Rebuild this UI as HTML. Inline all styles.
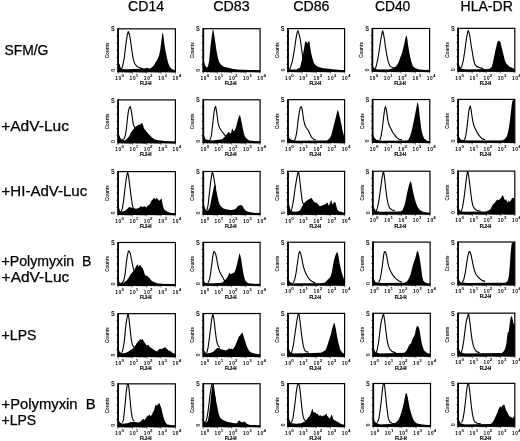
<!DOCTYPE html>
<html><head><meta charset="utf-8"><style>
html,body{margin:0;padding:0;background:#fff;}
body{width:520px;height:441px;position:relative;overflow:hidden;font-family:"Liberation Sans", sans-serif;}
svg text{font-family:"Liberation Sans", sans-serif;}
svg{will-change:transform;}
</style></head><body>
<svg width="520" height="441" viewBox="0 0 520 441" style="position:absolute;left:0;top:0">
<rect x="0" y="0" width="520" height="441" fill="#fff"/>
<text x="146.1" y="11.2" font-size="14" text-anchor="middle" textLength="36" lengthAdjust="spacingAndGlyphs" fill="#000" stroke="#000" stroke-width="0.25">CD14</text>
<text x="231.5" y="11.2" font-size="14" text-anchor="middle" textLength="36.4" lengthAdjust="spacingAndGlyphs" fill="#000" stroke="#000" stroke-width="0.25">CD83</text>
<text x="311.4" y="11.2" font-size="14" text-anchor="middle" textLength="36.2" lengthAdjust="spacingAndGlyphs" fill="#000" stroke="#000" stroke-width="0.25">CD86</text>
<text x="392.6" y="11.2" font-size="14" text-anchor="middle" textLength="35.4" lengthAdjust="spacingAndGlyphs" fill="#000" stroke="#000" stroke-width="0.25">CD40</text>
<text x="486.65" y="11.2" font-size="14" text-anchor="middle" textLength="52.3" lengthAdjust="spacingAndGlyphs" fill="#000" stroke="#000" stroke-width="0.25">HLA-DR</text>
<text x="4.4" y="54.5" font-size="14" textLength="44" lengthAdjust="spacingAndGlyphs" fill="#000" stroke="#000" stroke-width="0.25" xml:space="preserve">SFM/G</text>
<text x="1.2" y="131.4" font-size="14" textLength="67.8" lengthAdjust="spacingAndGlyphs" fill="#000" stroke="#000" stroke-width="0.25" xml:space="preserve">+AdV-Luc</text>
<text x="1.6" y="195.5" font-size="14" textLength="85.6" lengthAdjust="spacingAndGlyphs" fill="#000" stroke="#000" stroke-width="0.25" xml:space="preserve">+HI-AdV-Luc</text>
<text x="1.6" y="266.4" font-size="14" textLength="89.8" lengthAdjust="spacingAndGlyphs" fill="#000" stroke="#000" stroke-width="0.25" xml:space="preserve">+Polymyxin  B</text>
<text x="1.6" y="282" font-size="14" textLength="67.7" lengthAdjust="spacingAndGlyphs" fill="#000" stroke="#000" stroke-width="0.25" xml:space="preserve">+AdV-Luc</text>
<text x="1.6" y="340" font-size="14" textLength="34.8" lengthAdjust="spacingAndGlyphs" fill="#000" stroke="#000" stroke-width="0.25" xml:space="preserve">+LPS</text>
<text x="1.6" y="408.9" font-size="14" textLength="94" lengthAdjust="spacingAndGlyphs" fill="#000" stroke="#000" stroke-width="0.25" xml:space="preserve">+Polymyxin  B</text>
<text x="1.6" y="425.4" font-size="14" textLength="34.6" lengthAdjust="spacingAndGlyphs" fill="#000" stroke="#000" stroke-width="0.25" xml:space="preserve">+LPS</text>
<g><polygon points="118.45,70.06 118.69,62.92 119.68,64.15 120.54,67.85 122.38,69.08 127.31,69.32 139.62,68.83 144.54,68.46 147,67.85 149.46,68.83 151.92,67.23 153.77,65.38 155.62,62.31 157.46,59.23 159.06,55.54 160.29,49.38 161.28,42 162.14,34.62 162.75,32.15 163.62,37.08 164.48,44.46 165.46,50.62 166.69,56.77 168.17,62.92 169.77,66.62 171.62,69.08 173.46,69.69 175.31,70.06 175.31,71.7 118.45,71.7" fill="#000"/><polyline points="120.91,69.08 122.38,67.23 124.23,58 125.83,44.46 127.31,34.62 128.29,31.54 129.52,34.62 130.38,39.54 131.37,46.92 132.48,54.31 133.46,59.85 134.69,63.54 136.54,66 139.62,67.85 143.31,68.83" fill="none" stroke="#000" stroke-width="1.1" stroke-linejoin="round"/><rect x="118.1" y="70.3" width="57.3" height="1.4" fill="#000"/><rect x="118.1" y="28.85" width="57.3" height="42.85" fill="none" stroke="#000" stroke-width="1.2"/><line x1="118.1" y1="28.35" x2="118.1" y2="72.2" stroke="#000" stroke-width="1.7"/><path d="M116.3 35.99H118.1M116.3 43.13H118.1M116.3 50.28H118.1M116.3 57.42H118.1M116.3 64.56H118.1" stroke="#000" stroke-width="0.6"/><path d="M118.1 71.7v2.2M122.41 71.7v1.1M124.93 71.7v1.1M126.72 71.7v1.1M128.11 71.7v1.1M129.25 71.7v1.1M130.21 71.7v1.1M131.04 71.7v1.1M131.77 71.7v1.1M132.42 71.7v2.2M136.74 71.7v1.1M139.26 71.7v1.1M141.05 71.7v1.1M142.44 71.7v1.1M143.57 71.7v1.1M144.53 71.7v1.1M145.36 71.7v1.1M146.09 71.7v1.1M146.75 71.7v2.2M151.06 71.7v1.1M153.58 71.7v1.1M155.37 71.7v1.1M156.76 71.7v1.1M157.9 71.7v1.1M158.86 71.7v1.1M159.69 71.7v1.1M160.42 71.7v1.1M161.07 71.7v2.2M165.39 71.7v1.1M167.91 71.7v1.1M169.7 71.7v1.1M171.09 71.7v1.1M172.22 71.7v1.1M173.18 71.7v1.1M174.01 71.7v1.1M174.74 71.7v1.1M175.4 71.7v2.2" stroke="#000" stroke-width="0.5"/><text x="115.2" y="80.1" font-size="4.8" font-weight="bold" letter-spacing="0.7" fill="#000">10<tspan dx="-0.5" dy="-3" font-size="4.4">0</tspan></text><text x="129.52" y="80.1" font-size="4.8" font-weight="bold" letter-spacing="0.7" fill="#000">10<tspan dx="-0.5" dy="-3" font-size="4.4">1</tspan></text><text x="143.85" y="80.1" font-size="4.8" font-weight="bold" letter-spacing="0.7" fill="#000">10<tspan dx="-0.5" dy="-3" font-size="4.4">2</tspan></text><text x="158.17" y="80.1" font-size="4.8" font-weight="bold" letter-spacing="0.7" fill="#000">10<tspan dx="-0.5" dy="-3" font-size="4.4">3</tspan></text><text x="172.5" y="80.1" font-size="4.8" font-weight="bold" letter-spacing="0.7" fill="#000">10<tspan dx="-0.5" dy="-3" font-size="4.4">4</tspan></text><text x="145.75" y="85.3" font-size="4.6" font-weight="bold" text-anchor="middle" textLength="11.6" lengthAdjust="spacingAndGlyphs" fill="#000" stroke="#000" stroke-width="0.2">FL2-H</text><text x="107.6" y="50.28" font-size="4.6" font-weight="bold" text-anchor="middle" dominant-baseline="central" transform="rotate(-90 107.6 50.28)" fill="#111">Counts</text><text x="110.9" y="31.45" font-size="7.4" font-weight="bold" textLength="3.8" lengthAdjust="spacingAndGlyphs" fill="#111">S</text><text x="112.9" y="70.3" font-size="5.4" font-weight="bold" text-anchor="middle" dominant-baseline="central" transform="rotate(-90 112.9 70.3)" fill="#333">0</text></g>
<g><polygon points="203.69,70.69 203.69,60.23 204.68,63.92 206.15,67.62 208,66.38 209.23,60.23 210.46,46.69 211.69,36.85 212.68,30.08 213.29,29.46 214.15,34.38 215.38,43 216.62,51.62 217.85,57.77 219.08,62.08 220.92,64.54 223.38,66.38 227.08,67.62 232,68.85 236.92,69.46 243.08,69.83 249.23,70.08 255.38,70.32 260.1,70.69 260.1,71.57 203.69,71.57" fill="#000"/><rect x="203.3" y="70.17" width="56.8" height="1.4" fill="#000"/><rect x="203.3" y="28.72" width="56.8" height="42.85" fill="none" stroke="#000" stroke-width="1.2"/><line x1="203.3" y1="28.22" x2="203.3" y2="72.07" stroke="#000" stroke-width="1.7"/><path d="M201.5 35.86H203.3M201.5 43H203.3M201.5 50.15H203.3M201.5 57.29H203.3M201.5 64.43H203.3" stroke="#000" stroke-width="0.6"/><path d="M203.3 71.57v2.2M207.57 71.57v1.1M210.08 71.57v1.1M211.85 71.57v1.1M213.23 71.57v1.1M214.35 71.57v1.1M215.3 71.57v1.1M216.12 71.57v1.1M216.85 71.57v1.1M217.5 71.57v2.2M221.77 71.57v1.1M224.28 71.57v1.1M226.05 71.57v1.1M227.43 71.57v1.1M228.55 71.57v1.1M229.5 71.57v1.1M230.32 71.57v1.1M231.05 71.57v1.1M231.7 71.57v2.2M235.97 71.57v1.1M238.48 71.57v1.1M240.25 71.57v1.1M241.63 71.57v1.1M242.75 71.57v1.1M243.7 71.57v1.1M244.52 71.57v1.1M245.25 71.57v1.1M245.9 71.57v2.2M250.17 71.57v1.1M252.68 71.57v1.1M254.45 71.57v1.1M255.83 71.57v1.1M256.95 71.57v1.1M257.9 71.57v1.1M258.72 71.57v1.1M259.45 71.57v1.1M260.1 71.57v2.2" stroke="#000" stroke-width="0.5"/><text x="200.4" y="79.97" font-size="4.8" font-weight="bold" letter-spacing="0.7" fill="#000">10<tspan dx="-0.5" dy="-3" font-size="4.4">0</tspan></text><text x="214.6" y="79.97" font-size="4.8" font-weight="bold" letter-spacing="0.7" fill="#000">10<tspan dx="-0.5" dy="-3" font-size="4.4">1</tspan></text><text x="228.8" y="79.97" font-size="4.8" font-weight="bold" letter-spacing="0.7" fill="#000">10<tspan dx="-0.5" dy="-3" font-size="4.4">2</tspan></text><text x="243" y="79.97" font-size="4.8" font-weight="bold" letter-spacing="0.7" fill="#000">10<tspan dx="-0.5" dy="-3" font-size="4.4">3</tspan></text><text x="257.2" y="79.97" font-size="4.8" font-weight="bold" letter-spacing="0.7" fill="#000">10<tspan dx="-0.5" dy="-3" font-size="4.4">4</tspan></text><text x="230.7" y="85.17" font-size="4.6" font-weight="bold" text-anchor="middle" textLength="11.6" lengthAdjust="spacingAndGlyphs" fill="#000" stroke="#000" stroke-width="0.2">FL2-H</text><text x="192.8" y="50.15" font-size="4.6" font-weight="bold" text-anchor="middle" dominant-baseline="central" transform="rotate(-90 192.8 50.15)" fill="#111">Counts</text><text x="196.1" y="31.32" font-size="7.4" font-weight="bold" textLength="3.8" lengthAdjust="spacingAndGlyphs" fill="#111">S</text><text x="198.1" y="70.17" font-size="5.4" font-weight="bold" text-anchor="middle" dominant-baseline="central" transform="rotate(-90 198.1 70.17)" fill="#333">0</text></g>
<g><polygon points="288.31,70.69 288.31,67.62 290.15,69.46 296.31,69.46 300,67.62 301.85,60.23 303.08,54.08 304.31,46.69 305.17,41.77 306.15,41.15 307.14,43.62 308.37,41.77 309.35,41.15 310.09,46.69 311.08,52.85 312.31,57.77 313.78,62.69 315.75,65.15 318.46,67 323.38,68.23 328.31,68.85 333.23,69.22 338.15,69.83 344.31,70.69 344.31,71.45 288.31,71.45" fill="#000"/><polyline points="289.54,69.46 290.77,66.38 292.62,60.23 294.46,49.15 296.06,38.08 297.29,31.92 297.91,30.69 298.77,33.15 299.75,36.85 300.62,41.77 301.48,47.92 302.46,55.31 303.69,62.69 304.92,66.38 307.38,68.85 311.08,69.83" fill="none" stroke="#000" stroke-width="1.1" stroke-linejoin="round"/><rect x="288" y="70.05" width="56.6" height="1.4" fill="#000"/><rect x="288" y="28.6" width="56.6" height="42.85" fill="none" stroke="#000" stroke-width="1.2"/><line x1="288" y1="28.1" x2="288" y2="71.95" stroke="#000" stroke-width="1.7"/><path d="M286.2 35.74H288M286.2 42.88H288M286.2 50.03H288M286.2 57.17H288M286.2 64.31H288" stroke="#000" stroke-width="0.6"/><path d="M288 71.45v2.2M292.26 71.45v1.1M294.75 71.45v1.1M296.52 71.45v1.1M297.89 71.45v1.1M299.01 71.45v1.1M299.96 71.45v1.1M300.78 71.45v1.1M301.5 71.45v1.1M302.15 71.45v2.2M306.41 71.45v1.1M308.9 71.45v1.1M310.67 71.45v1.1M312.04 71.45v1.1M313.16 71.45v1.1M314.11 71.45v1.1M314.93 71.45v1.1M315.65 71.45v1.1M316.3 71.45v2.2M320.56 71.45v1.1M323.05 71.45v1.1M324.82 71.45v1.1M326.19 71.45v1.1M327.31 71.45v1.1M328.26 71.45v1.1M329.08 71.45v1.1M329.8 71.45v1.1M330.45 71.45v2.2M334.71 71.45v1.1M337.2 71.45v1.1M338.97 71.45v1.1M340.34 71.45v1.1M341.46 71.45v1.1M342.41 71.45v1.1M343.23 71.45v1.1M343.95 71.45v1.1M344.6 71.45v2.2" stroke="#000" stroke-width="0.5"/><text x="285.1" y="79.85" font-size="4.8" font-weight="bold" letter-spacing="0.7" fill="#000">10<tspan dx="-0.5" dy="-3" font-size="4.4">0</tspan></text><text x="299.25" y="79.85" font-size="4.8" font-weight="bold" letter-spacing="0.7" fill="#000">10<tspan dx="-0.5" dy="-3" font-size="4.4">1</tspan></text><text x="313.4" y="79.85" font-size="4.8" font-weight="bold" letter-spacing="0.7" fill="#000">10<tspan dx="-0.5" dy="-3" font-size="4.4">2</tspan></text><text x="327.55" y="79.85" font-size="4.8" font-weight="bold" letter-spacing="0.7" fill="#000">10<tspan dx="-0.5" dy="-3" font-size="4.4">3</tspan></text><text x="341.7" y="79.85" font-size="4.8" font-weight="bold" letter-spacing="0.7" fill="#000">10<tspan dx="-0.5" dy="-3" font-size="4.4">4</tspan></text><text x="315.3" y="85.05" font-size="4.6" font-weight="bold" text-anchor="middle" textLength="11.6" lengthAdjust="spacingAndGlyphs" fill="#000" stroke="#000" stroke-width="0.2">FL2-H</text><text x="277.5" y="50.03" font-size="4.6" font-weight="bold" text-anchor="middle" dominant-baseline="central" transform="rotate(-90 277.5 50.03)" fill="#111">Counts</text><text x="280.8" y="31.2" font-size="7.4" font-weight="bold" textLength="3.8" lengthAdjust="spacingAndGlyphs" fill="#111">S</text><text x="282.8" y="70.05" font-size="5.4" font-weight="bold" text-anchor="middle" dominant-baseline="central" transform="rotate(-90 282.8 70.05)" fill="#333">0</text></g>
<g><polygon points="373.08,70.69 373.08,66.38 374.31,68.23 377.38,69.46 388.46,69.46 393.38,68.23 395.85,66.38 397.69,63.92 398.92,61.46 400.15,57.77 401.75,54.08 402.98,49.15 404.22,44.23 405.45,38.08 406.31,35 407.17,38.08 408.15,45.46 409.14,51.62 410.37,57.77 411.6,62.69 413.08,66.38 415.54,68.23 419.23,69.46 424.15,70.08 429.6,70.32 429.6,71.33 373.08,71.33" fill="#000"/><polyline points="374.92,68.85 376.15,66.38 377.63,60.23 379.23,50.38 380.83,39.31 382.31,31.92 382.68,30.69 383.54,34.38 384.52,39.31 385.38,46.69 386.62,54.08 387.85,60.23 389.08,63.92 390.31,66.38 392.77,67.62 395.85,68.23" fill="none" stroke="#000" stroke-width="1.1" stroke-linejoin="round"/><rect x="372.4" y="69.93" width="57.2" height="1.4" fill="#000"/><rect x="372.4" y="28.48" width="57.2" height="42.85" fill="none" stroke="#000" stroke-width="1.2"/><line x1="372.4" y1="27.98" x2="372.4" y2="71.83" stroke="#000" stroke-width="1.7"/><path d="M370.6 35.62H372.4M370.6 42.76H372.4M370.6 49.91H372.4M370.6 57.05H372.4M370.6 64.19H372.4" stroke="#000" stroke-width="0.6"/><path d="M372.4 71.33v2.2M376.7 71.33v1.1M379.22 71.33v1.1M381.01 71.33v1.1M382.4 71.33v1.1M383.53 71.33v1.1M384.48 71.33v1.1M385.31 71.33v1.1M386.05 71.33v1.1M386.7 71.33v2.2M391 71.33v1.1M393.52 71.33v1.1M395.31 71.33v1.1M396.7 71.33v1.1M397.83 71.33v1.1M398.78 71.33v1.1M399.61 71.33v1.1M400.35 71.33v1.1M401 71.33v2.2M405.3 71.33v1.1M407.82 71.33v1.1M409.61 71.33v1.1M411 71.33v1.1M412.13 71.33v1.1M413.08 71.33v1.1M413.91 71.33v1.1M414.65 71.33v1.1M415.3 71.33v2.2M419.6 71.33v1.1M422.12 71.33v1.1M423.91 71.33v1.1M425.3 71.33v1.1M426.43 71.33v1.1M427.38 71.33v1.1M428.21 71.33v1.1M428.95 71.33v1.1M429.6 71.33v2.2" stroke="#000" stroke-width="0.5"/><text x="369.5" y="79.73" font-size="4.8" font-weight="bold" letter-spacing="0.7" fill="#000">10<tspan dx="-0.5" dy="-3" font-size="4.4">0</tspan></text><text x="383.8" y="79.73" font-size="4.8" font-weight="bold" letter-spacing="0.7" fill="#000">10<tspan dx="-0.5" dy="-3" font-size="4.4">1</tspan></text><text x="398.1" y="79.73" font-size="4.8" font-weight="bold" letter-spacing="0.7" fill="#000">10<tspan dx="-0.5" dy="-3" font-size="4.4">2</tspan></text><text x="412.4" y="79.73" font-size="4.8" font-weight="bold" letter-spacing="0.7" fill="#000">10<tspan dx="-0.5" dy="-3" font-size="4.4">3</tspan></text><text x="426.7" y="79.73" font-size="4.8" font-weight="bold" letter-spacing="0.7" fill="#000">10<tspan dx="-0.5" dy="-3" font-size="4.4">4</tspan></text><text x="400" y="84.93" font-size="4.6" font-weight="bold" text-anchor="middle" textLength="11.6" lengthAdjust="spacingAndGlyphs" fill="#000" stroke="#000" stroke-width="0.2">FL2-H</text><text x="361.9" y="49.91" font-size="4.6" font-weight="bold" text-anchor="middle" dominant-baseline="central" transform="rotate(-90 361.9 49.91)" fill="#111">Counts</text><text x="365.2" y="31.08" font-size="7.4" font-weight="bold" textLength="3.8" lengthAdjust="spacingAndGlyphs" fill="#111">S</text><text x="367.2" y="69.93" font-size="5.4" font-weight="bold" text-anchor="middle" dominant-baseline="central" transform="rotate(-90 367.2 69.93)" fill="#333">0</text></g>
<g><polygon points="458.69,70.32 458.69,62.69 459.68,66.38 461.15,68.85 467.31,69.46 489.46,69.09 491.92,66.38 493.15,61.46 494.14,56.54 495.37,50.38 496.6,45.46 497.46,41.77 499.06,40.54 500.29,41.77 501.15,45.46 502.38,50.38 503.62,55.31 504.85,60.23 506.08,63.31 507.31,64.54 509.15,66.38 511.62,67.62 514.08,68.85 514.8,70.32 514.8,71.2 458.69,71.2" fill="#000"/><polyline points="460.54,68.85 461.77,66.38 463.37,60.23 464.85,50.38 466.32,39.31 467.68,31.92 468.29,30.45 469.15,33.15 470.02,36.85 471,44.23 472.23,51.62 473.46,59 474.69,63.92 476.54,66.38 479.62,67.62 483.31,68.6" fill="none" stroke="#000" stroke-width="1.1" stroke-linejoin="round"/><rect x="458.1" y="69.8" width="56.7" height="1.4" fill="#000"/><rect x="458.1" y="28.35" width="56.7" height="42.85" fill="none" stroke="#000" stroke-width="1.2"/><line x1="458.1" y1="27.85" x2="458.1" y2="71.7" stroke="#000" stroke-width="1.7"/><path d="M456.3 35.49H458.1M456.3 42.63H458.1M456.3 49.78H458.1M456.3 56.92H458.1M456.3 64.06H458.1" stroke="#000" stroke-width="0.6"/><path d="M458.1 71.2v2.2M462.37 71.2v1.1M464.86 71.2v1.1M466.63 71.2v1.1M468.01 71.2v1.1M469.13 71.2v1.1M470.08 71.2v1.1M470.9 71.2v1.1M471.63 71.2v1.1M472.28 71.2v2.2M476.54 71.2v1.1M479.04 71.2v1.1M480.81 71.2v1.1M482.18 71.2v1.1M483.31 71.2v1.1M484.25 71.2v1.1M485.08 71.2v1.1M485.8 71.2v1.1M486.45 71.2v2.2M490.72 71.2v1.1M493.21 71.2v1.1M494.98 71.2v1.1M496.36 71.2v1.1M497.48 71.2v1.1M498.43 71.2v1.1M499.25 71.2v1.1M499.98 71.2v1.1M500.62 71.2v2.2M504.89 71.2v1.1M507.39 71.2v1.1M509.16 71.2v1.1M510.53 71.2v1.1M511.66 71.2v1.1M512.6 71.2v1.1M513.43 71.2v1.1M514.15 71.2v1.1M514.8 71.2v2.2" stroke="#000" stroke-width="0.5"/><text x="455.2" y="79.6" font-size="4.8" font-weight="bold" letter-spacing="0.7" fill="#000">10<tspan dx="-0.5" dy="-3" font-size="4.4">0</tspan></text><text x="469.38" y="79.6" font-size="4.8" font-weight="bold" letter-spacing="0.7" fill="#000">10<tspan dx="-0.5" dy="-3" font-size="4.4">1</tspan></text><text x="483.55" y="79.6" font-size="4.8" font-weight="bold" letter-spacing="0.7" fill="#000">10<tspan dx="-0.5" dy="-3" font-size="4.4">2</tspan></text><text x="497.73" y="79.6" font-size="4.8" font-weight="bold" letter-spacing="0.7" fill="#000">10<tspan dx="-0.5" dy="-3" font-size="4.4">3</tspan></text><text x="511.9" y="79.6" font-size="4.8" font-weight="bold" letter-spacing="0.7" fill="#000">10<tspan dx="-0.5" dy="-3" font-size="4.4">4</tspan></text><text x="485.45" y="84.8" font-size="4.6" font-weight="bold" text-anchor="middle" textLength="11.6" lengthAdjust="spacingAndGlyphs" fill="#000" stroke="#000" stroke-width="0.2">FL2-H</text><text x="447.6" y="49.78" font-size="4.6" font-weight="bold" text-anchor="middle" dominant-baseline="central" transform="rotate(-90 447.6 49.78)" fill="#111">Counts</text><text x="450.9" y="30.95" font-size="7.4" font-weight="bold" textLength="3.8" lengthAdjust="spacingAndGlyphs" fill="#111">S</text><text x="452.9" y="69.8" font-size="5.4" font-weight="bold" text-anchor="middle" dominant-baseline="central" transform="rotate(-90 452.9 69.8)" fill="#333">0</text></g>
<g><polygon points="118.45,141.69 118.45,133.69 119.31,134.92 120.54,138.62 122.38,139.85 124.85,140.46 127.31,138.62 129.15,136.15 131,132.46 132.85,130 134.69,127.54 136.54,126.31 138.38,125.08 140.23,124.46 141.46,123.23 142.32,123.23 143.06,125.08 143.92,128.15 145.15,130 146.75,131.85 148.23,133.69 150.08,135.54 151.92,137.38 154.38,139.23 158.08,140.22 161.77,140.46 164.23,141.08 167.92,141.45 175.06,141.69 175.06,142.77 118.45,142.77" fill="#000"/><polyline points="122.38,139.85 124.23,138.62 125.46,134.92 126.69,126.31 127.68,116.46 128.54,110.31 129.52,107.23 130.38,106.62 131,109.08 131.98,115.23 132.85,121.38 133.46,125.08 134.69,127.54 135.92,128.77 137.15,130 139.62,132.46 143.31,134.92 147,137.38 151.92,139.85" fill="none" stroke="#000" stroke-width="1.1" stroke-linejoin="round"/><rect x="118.1" y="141.37" width="57.3" height="1.4" fill="#000"/><rect x="118.1" y="99.92" width="57.3" height="42.85" fill="none" stroke="#000" stroke-width="1.2"/><line x1="118.1" y1="99.42" x2="118.1" y2="143.27" stroke="#000" stroke-width="1.7"/><path d="M116.3 107.06H118.1M116.3 114.2H118.1M116.3 121.34H118.1M116.3 128.49H118.1M116.3 135.63H118.1" stroke="#000" stroke-width="0.6"/><path d="M118.1 142.77v2.2M122.41 142.77v1.1M124.93 142.77v1.1M126.72 142.77v1.1M128.11 142.77v1.1M129.25 142.77v1.1M130.21 142.77v1.1M131.04 142.77v1.1M131.77 142.77v1.1M132.42 142.77v2.2M136.74 142.77v1.1M139.26 142.77v1.1M141.05 142.77v1.1M142.44 142.77v1.1M143.57 142.77v1.1M144.53 142.77v1.1M145.36 142.77v1.1M146.09 142.77v1.1M146.75 142.77v2.2M151.06 142.77v1.1M153.58 142.77v1.1M155.37 142.77v1.1M156.76 142.77v1.1M157.9 142.77v1.1M158.86 142.77v1.1M159.69 142.77v1.1M160.42 142.77v1.1M161.07 142.77v2.2M165.39 142.77v1.1M167.91 142.77v1.1M169.7 142.77v1.1M171.09 142.77v1.1M172.22 142.77v1.1M173.18 142.77v1.1M174.01 142.77v1.1M174.74 142.77v1.1M175.4 142.77v2.2" stroke="#000" stroke-width="0.5"/><text x="115.2" y="151.17" font-size="4.8" font-weight="bold" letter-spacing="0.7" fill="#000">10<tspan dx="-0.5" dy="-3" font-size="4.4">0</tspan></text><text x="129.52" y="151.17" font-size="4.8" font-weight="bold" letter-spacing="0.7" fill="#000">10<tspan dx="-0.5" dy="-3" font-size="4.4">1</tspan></text><text x="143.85" y="151.17" font-size="4.8" font-weight="bold" letter-spacing="0.7" fill="#000">10<tspan dx="-0.5" dy="-3" font-size="4.4">2</tspan></text><text x="158.17" y="151.17" font-size="4.8" font-weight="bold" letter-spacing="0.7" fill="#000">10<tspan dx="-0.5" dy="-3" font-size="4.4">3</tspan></text><text x="172.5" y="151.17" font-size="4.8" font-weight="bold" letter-spacing="0.7" fill="#000">10<tspan dx="-0.5" dy="-3" font-size="4.4">4</tspan></text><text x="145.75" y="156.37" font-size="4.6" font-weight="bold" text-anchor="middle" textLength="11.6" lengthAdjust="spacingAndGlyphs" fill="#000" stroke="#000" stroke-width="0.2">FL2-H</text><text x="107.6" y="121.34" font-size="4.6" font-weight="bold" text-anchor="middle" dominant-baseline="central" transform="rotate(-90 107.6 121.34)" fill="#111">Counts</text><text x="110.9" y="102.52" font-size="7.4" font-weight="bold" textLength="3.8" lengthAdjust="spacingAndGlyphs" fill="#111">S</text><text x="112.9" y="141.37" font-size="5.4" font-weight="bold" text-anchor="middle" dominant-baseline="central" transform="rotate(-90 112.9 141.37)" fill="#333">0</text></g>
<g><polygon points="203.45,141.69 203.45,133.69 204.31,136.15 205.54,139.23 207.38,139.85 212.31,140.46 218.46,139.85 222.15,139.23 224,137.38 225.85,135.54 227.69,133.08 228.92,131.85 230.15,133.69 231.02,133.08 231.75,130 232.62,128.15 233.23,131.23 234.46,130.62 235.69,128.15 236.92,123.85 238.15,118.92 239.14,115.85 240,115.23 240.98,118.92 241.85,123.85 243.08,130 244.31,134.92 245.54,137.38 247.38,139.23 249.23,140.46 254.15,141.08 259.69,141.69 259.69,142.64 203.45,142.64" fill="#000"/><polyline points="209.85,139.85 211.32,136.15 212.31,127.54 213.29,118.92 214.15,111.54 215.02,107.23 215.63,106.37 216.37,110.31 217.23,116.46 218.22,123.85 219.45,127.54 220.92,130 222.77,132.46 224.62,134.92 226.46,137.38 228.31,139.23" fill="none" stroke="#000" stroke-width="1.1" stroke-linejoin="round"/><rect x="203.3" y="141.24" width="56.8" height="1.4" fill="#000"/><rect x="203.3" y="99.79" width="56.8" height="42.85" fill="none" stroke="#000" stroke-width="1.2"/><line x1="203.3" y1="99.29" x2="203.3" y2="143.14" stroke="#000" stroke-width="1.7"/><path d="M201.5 106.93H203.3M201.5 114.07H203.3M201.5 121.22H203.3M201.5 128.36H203.3M201.5 135.5H203.3" stroke="#000" stroke-width="0.6"/><path d="M203.3 142.64v2.2M207.57 142.64v1.1M210.08 142.64v1.1M211.85 142.64v1.1M213.23 142.64v1.1M214.35 142.64v1.1M215.3 142.64v1.1M216.12 142.64v1.1M216.85 142.64v1.1M217.5 142.64v2.2M221.77 142.64v1.1M224.28 142.64v1.1M226.05 142.64v1.1M227.43 142.64v1.1M228.55 142.64v1.1M229.5 142.64v1.1M230.32 142.64v1.1M231.05 142.64v1.1M231.7 142.64v2.2M235.97 142.64v1.1M238.48 142.64v1.1M240.25 142.64v1.1M241.63 142.64v1.1M242.75 142.64v1.1M243.7 142.64v1.1M244.52 142.64v1.1M245.25 142.64v1.1M245.9 142.64v2.2M250.17 142.64v1.1M252.68 142.64v1.1M254.45 142.64v1.1M255.83 142.64v1.1M256.95 142.64v1.1M257.9 142.64v1.1M258.72 142.64v1.1M259.45 142.64v1.1M260.1 142.64v2.2" stroke="#000" stroke-width="0.5"/><text x="200.4" y="151.04" font-size="4.8" font-weight="bold" letter-spacing="0.7" fill="#000">10<tspan dx="-0.5" dy="-3" font-size="4.4">0</tspan></text><text x="214.6" y="151.04" font-size="4.8" font-weight="bold" letter-spacing="0.7" fill="#000">10<tspan dx="-0.5" dy="-3" font-size="4.4">1</tspan></text><text x="228.8" y="151.04" font-size="4.8" font-weight="bold" letter-spacing="0.7" fill="#000">10<tspan dx="-0.5" dy="-3" font-size="4.4">2</tspan></text><text x="243" y="151.04" font-size="4.8" font-weight="bold" letter-spacing="0.7" fill="#000">10<tspan dx="-0.5" dy="-3" font-size="4.4">3</tspan></text><text x="257.2" y="151.04" font-size="4.8" font-weight="bold" letter-spacing="0.7" fill="#000">10<tspan dx="-0.5" dy="-3" font-size="4.4">4</tspan></text><text x="230.7" y="156.24" font-size="4.6" font-weight="bold" text-anchor="middle" textLength="11.6" lengthAdjust="spacingAndGlyphs" fill="#000" stroke="#000" stroke-width="0.2">FL2-H</text><text x="192.8" y="121.22" font-size="4.6" font-weight="bold" text-anchor="middle" dominant-baseline="central" transform="rotate(-90 192.8 121.22)" fill="#111">Counts</text><text x="196.1" y="102.39" font-size="7.4" font-weight="bold" textLength="3.8" lengthAdjust="spacingAndGlyphs" fill="#111">S</text><text x="198.1" y="141.24" font-size="5.4" font-weight="bold" text-anchor="middle" dominant-baseline="central" transform="rotate(-90 198.1 141.24)" fill="#333">0</text></g>
<g><polygon points="288.68,141.69 288.68,136.15 289.54,138.62 291.38,139.85 296.31,140.83 320.92,140.46 327.08,140.46 329.54,138.62 331.38,134.92 332.62,130 333.85,125.08 335.08,120.15 336.31,115.23 337.17,111.54 337.78,109.69 338.77,112.77 340,117.69 341.23,123.85 342.46,130 343.69,134.92 344.6,137.38 344.6,141.69 344.6,142.52 288.68,142.52" fill="#000"/><polyline points="294.46,140.46 295.69,137.38 296.92,131.23 298.15,120.15 299.38,111.54 300.37,107.6 301.23,106.62 302.09,109.08 302.83,114 303.69,120.15 304.92,125.08 306.15,127.54 308,130 309.85,133.69 311.69,137.38 313.54,139.23 316,140.09" fill="none" stroke="#000" stroke-width="1.1" stroke-linejoin="round"/><rect x="288" y="141.12" width="56.6" height="1.4" fill="#000"/><rect x="288" y="99.67" width="56.6" height="42.85" fill="none" stroke="#000" stroke-width="1.2"/><line x1="288" y1="99.17" x2="288" y2="143.02" stroke="#000" stroke-width="1.7"/><path d="M286.2 106.81H288M286.2 113.95H288M286.2 121.09H288M286.2 128.24H288M286.2 135.38H288" stroke="#000" stroke-width="0.6"/><path d="M288 142.52v2.2M292.26 142.52v1.1M294.75 142.52v1.1M296.52 142.52v1.1M297.89 142.52v1.1M299.01 142.52v1.1M299.96 142.52v1.1M300.78 142.52v1.1M301.5 142.52v1.1M302.15 142.52v2.2M306.41 142.52v1.1M308.9 142.52v1.1M310.67 142.52v1.1M312.04 142.52v1.1M313.16 142.52v1.1M314.11 142.52v1.1M314.93 142.52v1.1M315.65 142.52v1.1M316.3 142.52v2.2M320.56 142.52v1.1M323.05 142.52v1.1M324.82 142.52v1.1M326.19 142.52v1.1M327.31 142.52v1.1M328.26 142.52v1.1M329.08 142.52v1.1M329.8 142.52v1.1M330.45 142.52v2.2M334.71 142.52v1.1M337.2 142.52v1.1M338.97 142.52v1.1M340.34 142.52v1.1M341.46 142.52v1.1M342.41 142.52v1.1M343.23 142.52v1.1M343.95 142.52v1.1M344.6 142.52v2.2" stroke="#000" stroke-width="0.5"/><text x="285.1" y="150.92" font-size="4.8" font-weight="bold" letter-spacing="0.7" fill="#000">10<tspan dx="-0.5" dy="-3" font-size="4.4">0</tspan></text><text x="299.25" y="150.92" font-size="4.8" font-weight="bold" letter-spacing="0.7" fill="#000">10<tspan dx="-0.5" dy="-3" font-size="4.4">1</tspan></text><text x="313.4" y="150.92" font-size="4.8" font-weight="bold" letter-spacing="0.7" fill="#000">10<tspan dx="-0.5" dy="-3" font-size="4.4">2</tspan></text><text x="327.55" y="150.92" font-size="4.8" font-weight="bold" letter-spacing="0.7" fill="#000">10<tspan dx="-0.5" dy="-3" font-size="4.4">3</tspan></text><text x="341.7" y="150.92" font-size="4.8" font-weight="bold" letter-spacing="0.7" fill="#000">10<tspan dx="-0.5" dy="-3" font-size="4.4">4</tspan></text><text x="315.3" y="156.12" font-size="4.6" font-weight="bold" text-anchor="middle" textLength="11.6" lengthAdjust="spacingAndGlyphs" fill="#000" stroke="#000" stroke-width="0.2">FL2-H</text><text x="277.5" y="121.09" font-size="4.6" font-weight="bold" text-anchor="middle" dominant-baseline="central" transform="rotate(-90 277.5 121.09)" fill="#111">Counts</text><text x="280.8" y="102.27" font-size="7.4" font-weight="bold" textLength="3.8" lengthAdjust="spacingAndGlyphs" fill="#111">S</text><text x="282.8" y="141.12" font-size="5.4" font-weight="bold" text-anchor="middle" dominant-baseline="central" transform="rotate(-90 282.8 141.12)" fill="#333">0</text></g>
<g><polygon points="373.08,141.69 373.08,133.69 374.31,137.38 376.15,139.85 382.31,140.83 406.92,140.46 408.77,139.23 410,136.15 411.23,132.46 412.46,127.54 413.69,121.38 414.92,115.23 416.15,109.08 417.02,104.15 417.75,101.69 418.62,106.62 419.48,114 420.46,122.62 421.45,130 422.68,134.92 424.15,138.62 426.62,140.46 429.78,141.69 429.78,142.4 373.08,142.4" fill="#000"/><polyline points="379.85,139.85 381.08,136.15 382.31,128.77 383.54,117.69 384.52,110.31 385.38,106.62 386.25,109.08 386.98,114 387.85,120.15 389.08,125.08 390.92,128.77 392.77,132.46 394.62,134.92 396.46,137.38 398.92,139.23 402,139.85" fill="none" stroke="#000" stroke-width="1.1" stroke-linejoin="round"/><rect x="372.58" y="141" width="57.2" height="1.4" fill="#000"/><rect x="372.58" y="99.55" width="57.2" height="42.85" fill="none" stroke="#000" stroke-width="1.2"/><line x1="372.58" y1="99.05" x2="372.58" y2="142.9" stroke="#000" stroke-width="1.7"/><path d="M370.78 106.69H372.58M370.78 113.83H372.58M370.78 120.97H372.58M370.78 128.12H372.58M370.78 135.26H372.58" stroke="#000" stroke-width="0.6"/><path d="M372.58 142.4v2.2M376.88 142.4v1.1M379.4 142.4v1.1M381.19 142.4v1.1M382.58 142.4v1.1M383.71 142.4v1.1M384.66 142.4v1.1M385.49 142.4v1.1M386.23 142.4v1.1M386.88 142.4v2.2M391.18 142.4v1.1M393.7 142.4v1.1M395.49 142.4v1.1M396.88 142.4v1.1M398.01 142.4v1.1M398.96 142.4v1.1M399.79 142.4v1.1M400.53 142.4v1.1M401.18 142.4v2.2M405.48 142.4v1.1M408 142.4v1.1M409.79 142.4v1.1M411.18 142.4v1.1M412.31 142.4v1.1M413.26 142.4v1.1M414.09 142.4v1.1M414.83 142.4v1.1M415.48 142.4v2.2M419.78 142.4v1.1M422.3 142.4v1.1M424.09 142.4v1.1M425.48 142.4v1.1M426.61 142.4v1.1M427.56 142.4v1.1M428.39 142.4v1.1M429.13 142.4v1.1M429.78 142.4v2.2" stroke="#000" stroke-width="0.5"/><text x="369.68" y="150.8" font-size="4.8" font-weight="bold" letter-spacing="0.7" fill="#000">10<tspan dx="-0.5" dy="-3" font-size="4.4">0</tspan></text><text x="383.98" y="150.8" font-size="4.8" font-weight="bold" letter-spacing="0.7" fill="#000">10<tspan dx="-0.5" dy="-3" font-size="4.4">1</tspan></text><text x="398.28" y="150.8" font-size="4.8" font-weight="bold" letter-spacing="0.7" fill="#000">10<tspan dx="-0.5" dy="-3" font-size="4.4">2</tspan></text><text x="412.58" y="150.8" font-size="4.8" font-weight="bold" letter-spacing="0.7" fill="#000">10<tspan dx="-0.5" dy="-3" font-size="4.4">3</tspan></text><text x="426.88" y="150.8" font-size="4.8" font-weight="bold" letter-spacing="0.7" fill="#000">10<tspan dx="-0.5" dy="-3" font-size="4.4">4</tspan></text><text x="400.18" y="156" font-size="4.6" font-weight="bold" text-anchor="middle" textLength="11.6" lengthAdjust="spacingAndGlyphs" fill="#000" stroke="#000" stroke-width="0.2">FL2-H</text><text x="362.08" y="120.97" font-size="4.6" font-weight="bold" text-anchor="middle" dominant-baseline="central" transform="rotate(-90 362.08 120.97)" fill="#111">Counts</text><text x="365.38" y="102.15" font-size="7.4" font-weight="bold" textLength="3.8" lengthAdjust="spacingAndGlyphs" fill="#111">S</text><text x="367.38" y="141" font-size="5.4" font-weight="bold" text-anchor="middle" dominant-baseline="central" transform="rotate(-90 367.38 141)" fill="#333">0</text></g>
<g><polygon points="458.45,141.69 458.45,134.92 459.31,137.38 461.15,139.85 467.31,140.46 501.77,140.46 504.23,139.6 506.08,137.38 507.31,134.92 508.17,131.23 509.15,126.31 510.14,118.92 511,111.54 511.62,105.38 512.23,101.69 512.85,100.46 514.69,99.85 514.69,141.69 514.69,142.27 458.45,142.27" fill="#000"/><polyline points="464.23,139.85 465.46,137.38 466.69,130 467.92,118.92 468.91,110.31 469.77,107.23 470.38,106 471,109.08 471.86,115.23 472.85,121.38 474.08,126.31 475.92,130 477.77,133.69 479.62,136.15 482.08,138.62 485.15,139.85" fill="none" stroke="#000" stroke-width="1.1" stroke-linejoin="round"/><rect x="458.1" y="140.87" width="56.7" height="1.4" fill="#000"/><rect x="458.1" y="99.42" width="56.7" height="42.85" fill="none" stroke="#000" stroke-width="1.2"/><line x1="458.1" y1="98.92" x2="458.1" y2="142.77" stroke="#000" stroke-width="1.7"/><path d="M456.3 106.56H458.1M456.3 113.7H458.1M456.3 120.84H458.1M456.3 127.99H458.1M456.3 135.13H458.1" stroke="#000" stroke-width="0.6"/><path d="M458.1 142.27v2.2M462.37 142.27v1.1M464.86 142.27v1.1M466.63 142.27v1.1M468.01 142.27v1.1M469.13 142.27v1.1M470.08 142.27v1.1M470.9 142.27v1.1M471.63 142.27v1.1M472.28 142.27v2.2M476.54 142.27v1.1M479.04 142.27v1.1M480.81 142.27v1.1M482.18 142.27v1.1M483.31 142.27v1.1M484.25 142.27v1.1M485.08 142.27v1.1M485.8 142.27v1.1M486.45 142.27v2.2M490.72 142.27v1.1M493.21 142.27v1.1M494.98 142.27v1.1M496.36 142.27v1.1M497.48 142.27v1.1M498.43 142.27v1.1M499.25 142.27v1.1M499.98 142.27v1.1M500.62 142.27v2.2M504.89 142.27v1.1M507.39 142.27v1.1M509.16 142.27v1.1M510.53 142.27v1.1M511.66 142.27v1.1M512.6 142.27v1.1M513.43 142.27v1.1M514.15 142.27v1.1M514.8 142.27v2.2" stroke="#000" stroke-width="0.5"/><text x="455.2" y="150.67" font-size="4.8" font-weight="bold" letter-spacing="0.7" fill="#000">10<tspan dx="-0.5" dy="-3" font-size="4.4">0</tspan></text><text x="469.38" y="150.67" font-size="4.8" font-weight="bold" letter-spacing="0.7" fill="#000">10<tspan dx="-0.5" dy="-3" font-size="4.4">1</tspan></text><text x="483.55" y="150.67" font-size="4.8" font-weight="bold" letter-spacing="0.7" fill="#000">10<tspan dx="-0.5" dy="-3" font-size="4.4">2</tspan></text><text x="497.73" y="150.67" font-size="4.8" font-weight="bold" letter-spacing="0.7" fill="#000">10<tspan dx="-0.5" dy="-3" font-size="4.4">3</tspan></text><text x="511.9" y="150.67" font-size="4.8" font-weight="bold" letter-spacing="0.7" fill="#000">10<tspan dx="-0.5" dy="-3" font-size="4.4">4</tspan></text><text x="485.45" y="155.87" font-size="4.6" font-weight="bold" text-anchor="middle" textLength="11.6" lengthAdjust="spacingAndGlyphs" fill="#000" stroke="#000" stroke-width="0.2">FL2-H</text><text x="447.6" y="120.84" font-size="4.6" font-weight="bold" text-anchor="middle" dominant-baseline="central" transform="rotate(-90 447.6 120.84)" fill="#111">Counts</text><text x="450.9" y="102.02" font-size="7.4" font-weight="bold" textLength="3.8" lengthAdjust="spacingAndGlyphs" fill="#111">S</text><text x="452.9" y="140.87" font-size="5.4" font-weight="bold" text-anchor="middle" dominant-baseline="central" transform="rotate(-90 452.9 140.87)" fill="#333">0</text></g>
<g><polygon points="118.1,213.69 118.1,203.23 118.94,206.92 119.92,210.62 121.15,211.85 123.62,211.23 126.08,210 127.92,208.15 129.15,206.92 131,207.54 133.46,208.15 135.92,208.77 138.38,208.15 140.85,206.31 142.69,206.92 144.54,206.31 146.38,207.54 147.62,205.69 149.46,204.46 150.94,202 151.92,200.15 153.15,198.92 154.14,197.69 155.62,199.54 156.85,197.69 158.08,199.54 159.31,200.77 160.54,199.54 161.52,198.31 162.38,203.23 163.25,206.92 164.23,209.38 166.69,211.23 169.15,212.46 171.62,213.08 175.06,213.69 175.06,214.45 118.1,214.45" fill="#000"/><polyline points="121.15,211.85 122.38,208.15 123.62,200.77 124.85,189.69 126.08,179.85 127.31,173.08 127.68,172.22 128.54,176.15 129.52,183.54 130.38,190.92 131.37,198.31 132.23,204.46 133.22,208.15 134.08,209.38" fill="none" stroke="#000" stroke-width="1.1" stroke-linejoin="round"/><rect x="118.1" y="213.05" width="57.3" height="1.4" fill="#000"/><rect x="118.1" y="171.6" width="57.3" height="42.85" fill="none" stroke="#000" stroke-width="1.2"/><line x1="118.1" y1="171.1" x2="118.1" y2="214.95" stroke="#000" stroke-width="1.7"/><path d="M116.3 178.74H118.1M116.3 185.88H118.1M116.3 193.03H118.1M116.3 200.17H118.1M116.3 207.31H118.1" stroke="#000" stroke-width="0.6"/><path d="M118.1 214.45v2.2M122.41 214.45v1.1M124.93 214.45v1.1M126.72 214.45v1.1M128.11 214.45v1.1M129.25 214.45v1.1M130.21 214.45v1.1M131.04 214.45v1.1M131.77 214.45v1.1M132.42 214.45v2.2M136.74 214.45v1.1M139.26 214.45v1.1M141.05 214.45v1.1M142.44 214.45v1.1M143.57 214.45v1.1M144.53 214.45v1.1M145.36 214.45v1.1M146.09 214.45v1.1M146.75 214.45v2.2M151.06 214.45v1.1M153.58 214.45v1.1M155.37 214.45v1.1M156.76 214.45v1.1M157.9 214.45v1.1M158.86 214.45v1.1M159.69 214.45v1.1M160.42 214.45v1.1M161.07 214.45v2.2M165.39 214.45v1.1M167.91 214.45v1.1M169.7 214.45v1.1M171.09 214.45v1.1M172.22 214.45v1.1M173.18 214.45v1.1M174.01 214.45v1.1M174.74 214.45v1.1M175.4 214.45v2.2" stroke="#000" stroke-width="0.5"/><text x="115.2" y="222.85" font-size="4.8" font-weight="bold" letter-spacing="0.7" fill="#000">10<tspan dx="-0.5" dy="-3" font-size="4.4">0</tspan></text><text x="129.52" y="222.85" font-size="4.8" font-weight="bold" letter-spacing="0.7" fill="#000">10<tspan dx="-0.5" dy="-3" font-size="4.4">1</tspan></text><text x="143.85" y="222.85" font-size="4.8" font-weight="bold" letter-spacing="0.7" fill="#000">10<tspan dx="-0.5" dy="-3" font-size="4.4">2</tspan></text><text x="158.17" y="222.85" font-size="4.8" font-weight="bold" letter-spacing="0.7" fill="#000">10<tspan dx="-0.5" dy="-3" font-size="4.4">3</tspan></text><text x="172.5" y="222.85" font-size="4.8" font-weight="bold" letter-spacing="0.7" fill="#000">10<tspan dx="-0.5" dy="-3" font-size="4.4">4</tspan></text><text x="145.75" y="228.05" font-size="4.6" font-weight="bold" text-anchor="middle" textLength="11.6" lengthAdjust="spacingAndGlyphs" fill="#000" stroke="#000" stroke-width="0.2">FL2-H</text><text x="107.6" y="193.03" font-size="4.6" font-weight="bold" text-anchor="middle" dominant-baseline="central" transform="rotate(-90 107.6 193.03)" fill="#111">Counts</text><text x="110.9" y="174.2" font-size="7.4" font-weight="bold" textLength="3.8" lengthAdjust="spacingAndGlyphs" fill="#111">S</text><text x="112.9" y="213.05" font-size="5.4" font-weight="bold" text-anchor="middle" dominant-baseline="central" transform="rotate(-90 112.9 213.05)" fill="#333">0</text></g>
<g><polygon points="203.3,213.69 203.3,200.77 203.94,204.46 204.92,208.15 206.15,210.62 208,210.62 209.85,206.92 211.08,200.77 212.31,194.62 213.29,189.69 214.15,186 215.02,184.77 215.75,187.23 216.62,192.15 217.6,197.08 218.71,202 219.94,205.08 221.54,206.92 224,208.77 227.08,209.38 230.77,210 234.46,209.38 236.31,208.15 237.54,206.31 238.77,205.69 240.62,205.08 242.46,205.69 243.69,208.15 244.92,210 246.77,211.23 249.23,212.09 252.92,212.83 257.85,213.32 259.69,213.69 259.69,214.32 203.3,214.32" fill="#000"/><polyline points="206.77,210.62 208,205.69 209.23,194.62 210.46,183.54 211.69,174.92 212.31,172.22 212.92,173.08 213.78,177.38 214.77,183.54 215.75,188.46" fill="none" stroke="#000" stroke-width="1.1" stroke-linejoin="round"/><rect x="203.3" y="212.92" width="56.8" height="1.4" fill="#000"/><rect x="203.3" y="171.47" width="56.8" height="42.85" fill="none" stroke="#000" stroke-width="1.2"/><line x1="203.3" y1="170.97" x2="203.3" y2="214.82" stroke="#000" stroke-width="1.7"/><path d="M201.5 178.61H203.3M201.5 185.75H203.3M201.5 192.9H203.3M201.5 200.04H203.3M201.5 207.18H203.3" stroke="#000" stroke-width="0.6"/><path d="M203.3 214.32v2.2M207.57 214.32v1.1M210.08 214.32v1.1M211.85 214.32v1.1M213.23 214.32v1.1M214.35 214.32v1.1M215.3 214.32v1.1M216.12 214.32v1.1M216.85 214.32v1.1M217.5 214.32v2.2M221.77 214.32v1.1M224.28 214.32v1.1M226.05 214.32v1.1M227.43 214.32v1.1M228.55 214.32v1.1M229.5 214.32v1.1M230.32 214.32v1.1M231.05 214.32v1.1M231.7 214.32v2.2M235.97 214.32v1.1M238.48 214.32v1.1M240.25 214.32v1.1M241.63 214.32v1.1M242.75 214.32v1.1M243.7 214.32v1.1M244.52 214.32v1.1M245.25 214.32v1.1M245.9 214.32v2.2M250.17 214.32v1.1M252.68 214.32v1.1M254.45 214.32v1.1M255.83 214.32v1.1M256.95 214.32v1.1M257.9 214.32v1.1M258.72 214.32v1.1M259.45 214.32v1.1M260.1 214.32v2.2" stroke="#000" stroke-width="0.5"/><text x="200.4" y="222.72" font-size="4.8" font-weight="bold" letter-spacing="0.7" fill="#000">10<tspan dx="-0.5" dy="-3" font-size="4.4">0</tspan></text><text x="214.6" y="222.72" font-size="4.8" font-weight="bold" letter-spacing="0.7" fill="#000">10<tspan dx="-0.5" dy="-3" font-size="4.4">1</tspan></text><text x="228.8" y="222.72" font-size="4.8" font-weight="bold" letter-spacing="0.7" fill="#000">10<tspan dx="-0.5" dy="-3" font-size="4.4">2</tspan></text><text x="243" y="222.72" font-size="4.8" font-weight="bold" letter-spacing="0.7" fill="#000">10<tspan dx="-0.5" dy="-3" font-size="4.4">3</tspan></text><text x="257.2" y="222.72" font-size="4.8" font-weight="bold" letter-spacing="0.7" fill="#000">10<tspan dx="-0.5" dy="-3" font-size="4.4">4</tspan></text><text x="230.7" y="227.92" font-size="4.6" font-weight="bold" text-anchor="middle" textLength="11.6" lengthAdjust="spacingAndGlyphs" fill="#000" stroke="#000" stroke-width="0.2">FL2-H</text><text x="192.8" y="192.9" font-size="4.6" font-weight="bold" text-anchor="middle" dominant-baseline="central" transform="rotate(-90 192.8 192.9)" fill="#111">Counts</text><text x="196.1" y="174.07" font-size="7.4" font-weight="bold" textLength="3.8" lengthAdjust="spacingAndGlyphs" fill="#111">S</text><text x="198.1" y="212.92" font-size="5.4" font-weight="bold" text-anchor="middle" dominant-baseline="central" transform="rotate(-90 198.1 212.92)" fill="#333">0</text></g>
<g><polygon points="288.31,213.08 288.31,200.77 289.17,204.46 290.15,209.38 291.38,211.23 295.08,211.85 298.77,211.23 300.62,209.38 302.22,206.31 303.69,203.85 305.54,201.38 307.38,200.15 308.62,199.54 309.85,198.92 310.83,197.69 311.69,198.31 312.92,200.15 314.15,202 315.75,202.62 317.23,203.23 318.71,205.08 319.69,206.31 321.54,205.69 323.38,205.08 325.23,204.46 326.46,203.23 327.69,202.62 328.55,205.69 329.78,203.85 330.77,200.77 331.51,200.15 332.25,204.46 333.23,203.23 334.46,202 335.45,202.62 336.31,205.69 337.17,209.38 338.77,211.23 341.85,212.09 344.6,213.08 344.6,214.2 288.31,214.2" fill="#000"/><polyline points="290.77,211.85 292,208.15 293.6,199.54 295.08,188.46 296.68,178.62 297.91,172.46 298.52,171.85 299.14,174.92 300,182.31 300.98,190.92 301.85,198.31 302.71,202.62 303.69,204.46" fill="none" stroke="#000" stroke-width="1.1" stroke-linejoin="round"/><rect x="288" y="212.8" width="56.6" height="1.4" fill="#000"/><rect x="288" y="171.35" width="56.6" height="42.85" fill="none" stroke="#000" stroke-width="1.2"/><line x1="288" y1="170.85" x2="288" y2="214.7" stroke="#000" stroke-width="1.7"/><path d="M286.2 178.49H288M286.2 185.63H288M286.2 192.78H288M286.2 199.92H288M286.2 207.06H288" stroke="#000" stroke-width="0.6"/><path d="M288 214.2v2.2M292.26 214.2v1.1M294.75 214.2v1.1M296.52 214.2v1.1M297.89 214.2v1.1M299.01 214.2v1.1M299.96 214.2v1.1M300.78 214.2v1.1M301.5 214.2v1.1M302.15 214.2v2.2M306.41 214.2v1.1M308.9 214.2v1.1M310.67 214.2v1.1M312.04 214.2v1.1M313.16 214.2v1.1M314.11 214.2v1.1M314.93 214.2v1.1M315.65 214.2v1.1M316.3 214.2v2.2M320.56 214.2v1.1M323.05 214.2v1.1M324.82 214.2v1.1M326.19 214.2v1.1M327.31 214.2v1.1M328.26 214.2v1.1M329.08 214.2v1.1M329.8 214.2v1.1M330.45 214.2v2.2M334.71 214.2v1.1M337.2 214.2v1.1M338.97 214.2v1.1M340.34 214.2v1.1M341.46 214.2v1.1M342.41 214.2v1.1M343.23 214.2v1.1M343.95 214.2v1.1M344.6 214.2v2.2" stroke="#000" stroke-width="0.5"/><text x="285.1" y="222.6" font-size="4.8" font-weight="bold" letter-spacing="0.7" fill="#000">10<tspan dx="-0.5" dy="-3" font-size="4.4">0</tspan></text><text x="299.25" y="222.6" font-size="4.8" font-weight="bold" letter-spacing="0.7" fill="#000">10<tspan dx="-0.5" dy="-3" font-size="4.4">1</tspan></text><text x="313.4" y="222.6" font-size="4.8" font-weight="bold" letter-spacing="0.7" fill="#000">10<tspan dx="-0.5" dy="-3" font-size="4.4">2</tspan></text><text x="327.55" y="222.6" font-size="4.8" font-weight="bold" letter-spacing="0.7" fill="#000">10<tspan dx="-0.5" dy="-3" font-size="4.4">3</tspan></text><text x="341.7" y="222.6" font-size="4.8" font-weight="bold" letter-spacing="0.7" fill="#000">10<tspan dx="-0.5" dy="-3" font-size="4.4">4</tspan></text><text x="315.3" y="227.8" font-size="4.6" font-weight="bold" text-anchor="middle" textLength="11.6" lengthAdjust="spacingAndGlyphs" fill="#000" stroke="#000" stroke-width="0.2">FL2-H</text><text x="277.5" y="192.78" font-size="4.6" font-weight="bold" text-anchor="middle" dominant-baseline="central" transform="rotate(-90 277.5 192.78)" fill="#111">Counts</text><text x="280.8" y="173.95" font-size="7.4" font-weight="bold" textLength="3.8" lengthAdjust="spacingAndGlyphs" fill="#111">S</text><text x="282.8" y="212.8" font-size="5.4" font-weight="bold" text-anchor="middle" dominant-baseline="central" transform="rotate(-90 282.8 212.8)" fill="#333">0</text></g>
<g><polygon points="373.45,213.08 373.45,204.46 374.31,208.15 375.54,210.62 379.85,211.85 400.77,211.6 402.62,210 403.85,206.92 405.08,203.23 406.31,197.08 407.54,190.92 408.77,186 410,182.31 410.62,181.08 411.48,183.54 412.46,188.46 413.69,194.62 414.92,199.54 416.52,204.46 418,207.54 419.85,210 422.92,211.85 426.62,212.46 429.96,213.08 429.96,214.08 373.45,214.08" fill="#000"/><polyline points="376.15,211.23 377.38,208.15 378.86,200.77 380.46,189.69 381.94,178.62 382.92,173.08 383.54,171.85 384.15,174.92 385.02,182.31 386,190.92 386.98,198.31 388.22,204.46 389.69,208.15 392.15,210 394.62,210.62" fill="none" stroke="#000" stroke-width="1.1" stroke-linejoin="round"/><rect x="372.76" y="212.68" width="57.2" height="1.4" fill="#000"/><rect x="372.76" y="171.23" width="57.2" height="42.85" fill="none" stroke="#000" stroke-width="1.2"/><line x1="372.76" y1="170.73" x2="372.76" y2="214.58" stroke="#000" stroke-width="1.7"/><path d="M370.96 178.37H372.76M370.96 185.51H372.76M370.96 192.66H372.76M370.96 199.8H372.76M370.96 206.94H372.76" stroke="#000" stroke-width="0.6"/><path d="M372.76 214.08v2.2M377.06 214.08v1.1M379.58 214.08v1.1M381.37 214.08v1.1M382.76 214.08v1.1M383.89 214.08v1.1M384.84 214.08v1.1M385.67 214.08v1.1M386.41 214.08v1.1M387.06 214.08v2.2M391.36 214.08v1.1M393.88 214.08v1.1M395.67 214.08v1.1M397.06 214.08v1.1M398.19 214.08v1.1M399.14 214.08v1.1M399.97 214.08v1.1M400.71 214.08v1.1M401.36 214.08v2.2M405.66 214.08v1.1M408.18 214.08v1.1M409.97 214.08v1.1M411.36 214.08v1.1M412.49 214.08v1.1M413.44 214.08v1.1M414.27 214.08v1.1M415.01 214.08v1.1M415.66 214.08v2.2M419.96 214.08v1.1M422.48 214.08v1.1M424.27 214.08v1.1M425.66 214.08v1.1M426.79 214.08v1.1M427.74 214.08v1.1M428.57 214.08v1.1M429.31 214.08v1.1M429.96 214.08v2.2" stroke="#000" stroke-width="0.5"/><text x="369.86" y="222.48" font-size="4.8" font-weight="bold" letter-spacing="0.7" fill="#000">10<tspan dx="-0.5" dy="-3" font-size="4.4">0</tspan></text><text x="384.16" y="222.48" font-size="4.8" font-weight="bold" letter-spacing="0.7" fill="#000">10<tspan dx="-0.5" dy="-3" font-size="4.4">1</tspan></text><text x="398.46" y="222.48" font-size="4.8" font-weight="bold" letter-spacing="0.7" fill="#000">10<tspan dx="-0.5" dy="-3" font-size="4.4">2</tspan></text><text x="412.76" y="222.48" font-size="4.8" font-weight="bold" letter-spacing="0.7" fill="#000">10<tspan dx="-0.5" dy="-3" font-size="4.4">3</tspan></text><text x="427.06" y="222.48" font-size="4.8" font-weight="bold" letter-spacing="0.7" fill="#000">10<tspan dx="-0.5" dy="-3" font-size="4.4">4</tspan></text><text x="400.36" y="227.68" font-size="4.6" font-weight="bold" text-anchor="middle" textLength="11.6" lengthAdjust="spacingAndGlyphs" fill="#000" stroke="#000" stroke-width="0.2">FL2-H</text><text x="362.26" y="192.66" font-size="4.6" font-weight="bold" text-anchor="middle" dominant-baseline="central" transform="rotate(-90 362.26 192.66)" fill="#111">Counts</text><text x="365.56" y="173.83" font-size="7.4" font-weight="bold" textLength="3.8" lengthAdjust="spacingAndGlyphs" fill="#111">S</text><text x="367.56" y="212.68" font-size="5.4" font-weight="bold" text-anchor="middle" dominant-baseline="central" transform="rotate(-90 367.56 212.68)" fill="#333">0</text></g>
<g><polygon points="458.45,213.08 458.45,205.69 459.31,209.38 460.54,211.23 464.85,211.85 485.77,211.6 488.23,210.62 490.08,209.38 491.31,207.54 492.54,205.08 493.77,203.85 495,202.62 496.23,200.77 497.46,199.54 498.69,200.15 499.92,198.92 501.15,197.69 502.38,195.23 503.25,195.85 504.23,198.92 505.22,200.15 506.08,198.92 506.94,201.38 507.92,202.62 508.78,200.15 509.77,202 511,200.15 511.86,198.31 512.85,197.69 513.83,198.31 514.69,197.69 514.69,213.08 514.69,213.95 458.45,213.95" fill="#000"/><polyline points="461.15,211.23 462.38,208.15 463.62,200.77 465.09,189.69 466.32,178.62 467.31,172.46 467.8,171.48 468.54,174.92 469.52,182.31 470.51,190.92 471.62,199.54 472.85,205.69 474.69,208.77 477.15,210.62 480.85,211.23" fill="none" stroke="#000" stroke-width="1.1" stroke-linejoin="round"/><rect x="458.1" y="212.55" width="56.7" height="1.4" fill="#000"/><rect x="458.1" y="171.1" width="56.7" height="42.85" fill="none" stroke="#000" stroke-width="1.2"/><line x1="458.1" y1="170.6" x2="458.1" y2="214.45" stroke="#000" stroke-width="1.7"/><path d="M456.3 178.24H458.1M456.3 185.38H458.1M456.3 192.53H458.1M456.3 199.67H458.1M456.3 206.81H458.1" stroke="#000" stroke-width="0.6"/><path d="M458.1 213.95v2.2M462.37 213.95v1.1M464.86 213.95v1.1M466.63 213.95v1.1M468.01 213.95v1.1M469.13 213.95v1.1M470.08 213.95v1.1M470.9 213.95v1.1M471.63 213.95v1.1M472.28 213.95v2.2M476.54 213.95v1.1M479.04 213.95v1.1M480.81 213.95v1.1M482.18 213.95v1.1M483.31 213.95v1.1M484.25 213.95v1.1M485.08 213.95v1.1M485.8 213.95v1.1M486.45 213.95v2.2M490.72 213.95v1.1M493.21 213.95v1.1M494.98 213.95v1.1M496.36 213.95v1.1M497.48 213.95v1.1M498.43 213.95v1.1M499.25 213.95v1.1M499.98 213.95v1.1M500.62 213.95v2.2M504.89 213.95v1.1M507.39 213.95v1.1M509.16 213.95v1.1M510.53 213.95v1.1M511.66 213.95v1.1M512.6 213.95v1.1M513.43 213.95v1.1M514.15 213.95v1.1M514.8 213.95v2.2" stroke="#000" stroke-width="0.5"/><text x="455.2" y="222.35" font-size="4.8" font-weight="bold" letter-spacing="0.7" fill="#000">10<tspan dx="-0.5" dy="-3" font-size="4.4">0</tspan></text><text x="469.38" y="222.35" font-size="4.8" font-weight="bold" letter-spacing="0.7" fill="#000">10<tspan dx="-0.5" dy="-3" font-size="4.4">1</tspan></text><text x="483.55" y="222.35" font-size="4.8" font-weight="bold" letter-spacing="0.7" fill="#000">10<tspan dx="-0.5" dy="-3" font-size="4.4">2</tspan></text><text x="497.73" y="222.35" font-size="4.8" font-weight="bold" letter-spacing="0.7" fill="#000">10<tspan dx="-0.5" dy="-3" font-size="4.4">3</tspan></text><text x="511.9" y="222.35" font-size="4.8" font-weight="bold" letter-spacing="0.7" fill="#000">10<tspan dx="-0.5" dy="-3" font-size="4.4">4</tspan></text><text x="485.45" y="227.55" font-size="4.6" font-weight="bold" text-anchor="middle" textLength="11.6" lengthAdjust="spacingAndGlyphs" fill="#000" stroke="#000" stroke-width="0.2">FL2-H</text><text x="447.6" y="192.53" font-size="4.6" font-weight="bold" text-anchor="middle" dominant-baseline="central" transform="rotate(-90 447.6 192.53)" fill="#111">Counts</text><text x="450.9" y="173.7" font-size="7.4" font-weight="bold" textLength="3.8" lengthAdjust="spacingAndGlyphs" fill="#111">S</text><text x="452.9" y="212.55" font-size="5.4" font-weight="bold" text-anchor="middle" dominant-baseline="central" transform="rotate(-90 452.9 212.55)" fill="#333">0</text></g>
<g><polygon points="118.1,284.69 118.1,277.92 118.69,280.38 119.92,282.85 123.62,282.85 126.69,280.38 128.54,277.92 130.38,274.85 132.23,272.38 133.71,270.54 134.94,268.69 135.92,266.85 136.91,265 137.77,264.38 138.63,266.85 139.37,265.62 140.23,265 141.09,266.85 142.08,267.46 143.06,268.69 143.92,271.77 144.91,274.85 146.02,276.08 147.25,275.46 148.23,277.31 149.46,277.92 150.69,279.77 151.92,281 154.38,282.23 158.08,283.46 161.77,283.83 166.69,284.32 174.69,284.69 174.69,285.34 118.1,285.34" fill="#000"/><polyline points="122.38,282.85 123.86,280.38 125.09,274.23 126.32,263.15 127.31,255.77 128.17,252.08 128.78,250.85 129.52,252.08 130.38,253.31 131.25,258.23 132.23,263.15 133.22,268.08 134.08,270.54" fill="none" stroke="#000" stroke-width="1.1" stroke-linejoin="round"/><rect x="118.1" y="283.94" width="57.3" height="1.4" fill="#000"/><rect x="118.1" y="242.49" width="57.3" height="42.85" fill="none" stroke="#000" stroke-width="1.2"/><line x1="118.1" y1="241.99" x2="118.1" y2="285.84" stroke="#000" stroke-width="1.7"/><path d="M116.3 249.63H118.1M116.3 256.77H118.1M116.3 263.92H118.1M116.3 271.06H118.1M116.3 278.2H118.1" stroke="#000" stroke-width="0.6"/><path d="M118.1 285.34v2.2M122.41 285.34v1.1M124.93 285.34v1.1M126.72 285.34v1.1M128.11 285.34v1.1M129.25 285.34v1.1M130.21 285.34v1.1M131.04 285.34v1.1M131.77 285.34v1.1M132.42 285.34v2.2M136.74 285.34v1.1M139.26 285.34v1.1M141.05 285.34v1.1M142.44 285.34v1.1M143.57 285.34v1.1M144.53 285.34v1.1M145.36 285.34v1.1M146.09 285.34v1.1M146.75 285.34v2.2M151.06 285.34v1.1M153.58 285.34v1.1M155.37 285.34v1.1M156.76 285.34v1.1M157.9 285.34v1.1M158.86 285.34v1.1M159.69 285.34v1.1M160.42 285.34v1.1M161.07 285.34v2.2M165.39 285.34v1.1M167.91 285.34v1.1M169.7 285.34v1.1M171.09 285.34v1.1M172.22 285.34v1.1M173.18 285.34v1.1M174.01 285.34v1.1M174.74 285.34v1.1M175.4 285.34v2.2" stroke="#000" stroke-width="0.5"/><text x="115.2" y="293.74" font-size="4.8" font-weight="bold" letter-spacing="0.7" fill="#000">10<tspan dx="-0.5" dy="-3" font-size="4.4">0</tspan></text><text x="129.52" y="293.74" font-size="4.8" font-weight="bold" letter-spacing="0.7" fill="#000">10<tspan dx="-0.5" dy="-3" font-size="4.4">1</tspan></text><text x="143.85" y="293.74" font-size="4.8" font-weight="bold" letter-spacing="0.7" fill="#000">10<tspan dx="-0.5" dy="-3" font-size="4.4">2</tspan></text><text x="158.17" y="293.74" font-size="4.8" font-weight="bold" letter-spacing="0.7" fill="#000">10<tspan dx="-0.5" dy="-3" font-size="4.4">3</tspan></text><text x="172.5" y="293.74" font-size="4.8" font-weight="bold" letter-spacing="0.7" fill="#000">10<tspan dx="-0.5" dy="-3" font-size="4.4">4</tspan></text><text x="145.75" y="298.94" font-size="4.6" font-weight="bold" text-anchor="middle" textLength="11.6" lengthAdjust="spacingAndGlyphs" fill="#000" stroke="#000" stroke-width="0.2">FL2-H</text><text x="107.6" y="263.92" font-size="4.6" font-weight="bold" text-anchor="middle" dominant-baseline="central" transform="rotate(-90 107.6 263.92)" fill="#111">Counts</text><text x="110.9" y="245.09" font-size="7.4" font-weight="bold" textLength="3.8" lengthAdjust="spacingAndGlyphs" fill="#111">S</text><text x="112.9" y="283.94" font-size="5.4" font-weight="bold" text-anchor="middle" dominant-baseline="central" transform="rotate(-90 112.9 283.94)" fill="#333">0</text></g>
<g><polygon points="203.3,284.69 203.3,277.92 203.69,280.38 204.92,282.85 209.85,283.46 222.15,282.85 224,281 225.85,279.15 227.32,277.31 228.55,274.85 229.29,272.38 229.91,273.62 230.77,274.23 232,273.62 233.23,273 234.46,272.38 235.69,269.31 236.68,265.62 237.54,261.92 238.4,258.23 239.14,254.54 239.63,253.31 240.37,255.77 241.23,259.46 242.09,265.62 243.08,271.77 244.06,276.69 245.29,280.38 246.77,282.23 249.23,283.46 254.15,284.08 259.69,284.69 259.69,285.21 203.3,285.21" fill="#000"/><polyline points="208,282.85 209.6,279.15 210.83,271.77 212.06,261.92 212.92,255.77 213.54,252.08 214.15,251.46 215.02,252.69 215.75,254.54 216.62,258.23 217.48,263.15 218.46,268.08 219.69,271.77 221.17,274.85 222.77,277.31 224,279.77 225.23,281.62 227.08,282.85" fill="none" stroke="#000" stroke-width="1.1" stroke-linejoin="round"/><rect x="203.3" y="283.81" width="56.8" height="1.4" fill="#000"/><rect x="203.3" y="242.36" width="56.8" height="42.85" fill="none" stroke="#000" stroke-width="1.2"/><line x1="203.3" y1="241.86" x2="203.3" y2="285.71" stroke="#000" stroke-width="1.7"/><path d="M201.5 249.5H203.3M201.5 256.64H203.3M201.5 263.79H203.3M201.5 270.93H203.3M201.5 278.07H203.3" stroke="#000" stroke-width="0.6"/><path d="M203.3 285.21v2.2M207.57 285.21v1.1M210.08 285.21v1.1M211.85 285.21v1.1M213.23 285.21v1.1M214.35 285.21v1.1M215.3 285.21v1.1M216.12 285.21v1.1M216.85 285.21v1.1M217.5 285.21v2.2M221.77 285.21v1.1M224.28 285.21v1.1M226.05 285.21v1.1M227.43 285.21v1.1M228.55 285.21v1.1M229.5 285.21v1.1M230.32 285.21v1.1M231.05 285.21v1.1M231.7 285.21v2.2M235.97 285.21v1.1M238.48 285.21v1.1M240.25 285.21v1.1M241.63 285.21v1.1M242.75 285.21v1.1M243.7 285.21v1.1M244.52 285.21v1.1M245.25 285.21v1.1M245.9 285.21v2.2M250.17 285.21v1.1M252.68 285.21v1.1M254.45 285.21v1.1M255.83 285.21v1.1M256.95 285.21v1.1M257.9 285.21v1.1M258.72 285.21v1.1M259.45 285.21v1.1M260.1 285.21v2.2" stroke="#000" stroke-width="0.5"/><text x="200.4" y="293.61" font-size="4.8" font-weight="bold" letter-spacing="0.7" fill="#000">10<tspan dx="-0.5" dy="-3" font-size="4.4">0</tspan></text><text x="214.6" y="293.61" font-size="4.8" font-weight="bold" letter-spacing="0.7" fill="#000">10<tspan dx="-0.5" dy="-3" font-size="4.4">1</tspan></text><text x="228.8" y="293.61" font-size="4.8" font-weight="bold" letter-spacing="0.7" fill="#000">10<tspan dx="-0.5" dy="-3" font-size="4.4">2</tspan></text><text x="243" y="293.61" font-size="4.8" font-weight="bold" letter-spacing="0.7" fill="#000">10<tspan dx="-0.5" dy="-3" font-size="4.4">3</tspan></text><text x="257.2" y="293.61" font-size="4.8" font-weight="bold" letter-spacing="0.7" fill="#000">10<tspan dx="-0.5" dy="-3" font-size="4.4">4</tspan></text><text x="230.7" y="298.81" font-size="4.6" font-weight="bold" text-anchor="middle" textLength="11.6" lengthAdjust="spacingAndGlyphs" fill="#000" stroke="#000" stroke-width="0.2">FL2-H</text><text x="192.8" y="263.79" font-size="4.6" font-weight="bold" text-anchor="middle" dominant-baseline="central" transform="rotate(-90 192.8 263.79)" fill="#111">Counts</text><text x="196.1" y="244.96" font-size="7.4" font-weight="bold" textLength="3.8" lengthAdjust="spacingAndGlyphs" fill="#111">S</text><text x="198.1" y="283.81" font-size="5.4" font-weight="bold" text-anchor="middle" dominant-baseline="central" transform="rotate(-90 198.1 283.81)" fill="#333">0</text></g>
<g><polygon points="288.31,284.08 288.31,277.92 289.17,280.38 290.15,282.23 293.85,283.46 320.92,283.22 324.62,282.85 326.46,281 328.06,279.15 329.54,277.92 330.77,276.08 332,271.77 332.98,265.62 333.85,260.69 334.83,257 335.69,254.54 336.68,252.69 337.54,252.08 338.4,255.77 339.38,261.92 340.62,268.08 341.85,273 343.08,276.69 344.31,280.38 344.6,281.62 344.6,284.08 344.6,285.09 288.31,285.09" fill="#000"/><polyline points="293.23,282.85 294.83,279.15 296.06,273 297.29,264.38 298.28,257 299.02,252.69 299.75,251.46 300.62,253.31 301.48,257 302.46,261.92 303.45,266.85 304.68,270.54 306.15,274.23 308,277.31 309.85,279.77 312.31,281.62 315.38,282.85" fill="none" stroke="#000" stroke-width="1.1" stroke-linejoin="round"/><rect x="288" y="283.69" width="56.6" height="1.4" fill="#000"/><rect x="288" y="242.24" width="56.6" height="42.85" fill="none" stroke="#000" stroke-width="1.2"/><line x1="288" y1="241.74" x2="288" y2="285.59" stroke="#000" stroke-width="1.7"/><path d="M286.2 249.38H288M286.2 256.52H288M286.2 263.67H288M286.2 270.81H288M286.2 277.95H288" stroke="#000" stroke-width="0.6"/><path d="M288 285.09v2.2M292.26 285.09v1.1M294.75 285.09v1.1M296.52 285.09v1.1M297.89 285.09v1.1M299.01 285.09v1.1M299.96 285.09v1.1M300.78 285.09v1.1M301.5 285.09v1.1M302.15 285.09v2.2M306.41 285.09v1.1M308.9 285.09v1.1M310.67 285.09v1.1M312.04 285.09v1.1M313.16 285.09v1.1M314.11 285.09v1.1M314.93 285.09v1.1M315.65 285.09v1.1M316.3 285.09v2.2M320.56 285.09v1.1M323.05 285.09v1.1M324.82 285.09v1.1M326.19 285.09v1.1M327.31 285.09v1.1M328.26 285.09v1.1M329.08 285.09v1.1M329.8 285.09v1.1M330.45 285.09v2.2M334.71 285.09v1.1M337.2 285.09v1.1M338.97 285.09v1.1M340.34 285.09v1.1M341.46 285.09v1.1M342.41 285.09v1.1M343.23 285.09v1.1M343.95 285.09v1.1M344.6 285.09v2.2" stroke="#000" stroke-width="0.5"/><text x="285.1" y="293.49" font-size="4.8" font-weight="bold" letter-spacing="0.7" fill="#000">10<tspan dx="-0.5" dy="-3" font-size="4.4">0</tspan></text><text x="299.25" y="293.49" font-size="4.8" font-weight="bold" letter-spacing="0.7" fill="#000">10<tspan dx="-0.5" dy="-3" font-size="4.4">1</tspan></text><text x="313.4" y="293.49" font-size="4.8" font-weight="bold" letter-spacing="0.7" fill="#000">10<tspan dx="-0.5" dy="-3" font-size="4.4">2</tspan></text><text x="327.55" y="293.49" font-size="4.8" font-weight="bold" letter-spacing="0.7" fill="#000">10<tspan dx="-0.5" dy="-3" font-size="4.4">3</tspan></text><text x="341.7" y="293.49" font-size="4.8" font-weight="bold" letter-spacing="0.7" fill="#000">10<tspan dx="-0.5" dy="-3" font-size="4.4">4</tspan></text><text x="315.3" y="298.69" font-size="4.6" font-weight="bold" text-anchor="middle" textLength="11.6" lengthAdjust="spacingAndGlyphs" fill="#000" stroke="#000" stroke-width="0.2">FL2-H</text><text x="277.5" y="263.67" font-size="4.6" font-weight="bold" text-anchor="middle" dominant-baseline="central" transform="rotate(-90 277.5 263.67)" fill="#111">Counts</text><text x="280.8" y="244.84" font-size="7.4" font-weight="bold" textLength="3.8" lengthAdjust="spacingAndGlyphs" fill="#111">S</text><text x="282.8" y="283.69" font-size="5.4" font-weight="bold" text-anchor="middle" dominant-baseline="central" transform="rotate(-90 282.8 283.69)" fill="#333">0</text></g>
<g><polygon points="373.45,284.08 373.45,276.69 374.31,279.77 375.54,282.23 382.31,283.09 404.46,282.85 406.92,281.62 408.15,279.77 409.38,277.31 410.62,274.23 411.85,269.31 413.08,264.38 414.31,260.69 415.29,258.23 416.15,254.54 417.02,251.46 417.75,250.85 418.62,253.31 419.48,257 420.46,263.15 421.45,270.54 422.31,276.69 423.17,280.38 424.77,282.23 427.85,283.46 430.14,284.08 430.14,284.97 373.45,284.97" fill="#000"/><polyline points="378.62,282.23 380.09,279.15 381.32,273 382.55,264.38 383.54,255.77 384.28,252.08 385.02,251.46 385.75,252.69 386.62,255.77 387.48,260.69 388.46,265.62 389.69,269.31 391.17,272.38 392.77,274.85 394.62,277.31 396.46,279.15 398.92,281 402,282.23" fill="none" stroke="#000" stroke-width="1.1" stroke-linejoin="round"/><rect x="372.94" y="283.57" width="57.2" height="1.4" fill="#000"/><rect x="372.94" y="242.12" width="57.2" height="42.85" fill="none" stroke="#000" stroke-width="1.2"/><line x1="372.94" y1="241.62" x2="372.94" y2="285.47" stroke="#000" stroke-width="1.7"/><path d="M371.14 249.26H372.94M371.14 256.4H372.94M371.14 263.55H372.94M371.14 270.69H372.94M371.14 277.83H372.94" stroke="#000" stroke-width="0.6"/><path d="M372.94 284.97v2.2M377.24 284.97v1.1M379.76 284.97v1.1M381.55 284.97v1.1M382.94 284.97v1.1M384.07 284.97v1.1M385.02 284.97v1.1M385.85 284.97v1.1M386.59 284.97v1.1M387.24 284.97v2.2M391.54 284.97v1.1M394.06 284.97v1.1M395.85 284.97v1.1M397.24 284.97v1.1M398.37 284.97v1.1M399.32 284.97v1.1M400.15 284.97v1.1M400.89 284.97v1.1M401.54 284.97v2.2M405.84 284.97v1.1M408.36 284.97v1.1M410.15 284.97v1.1M411.54 284.97v1.1M412.67 284.97v1.1M413.62 284.97v1.1M414.45 284.97v1.1M415.19 284.97v1.1M415.84 284.97v2.2M420.14 284.97v1.1M422.66 284.97v1.1M424.45 284.97v1.1M425.84 284.97v1.1M426.97 284.97v1.1M427.92 284.97v1.1M428.75 284.97v1.1M429.49 284.97v1.1M430.14 284.97v2.2" stroke="#000" stroke-width="0.5"/><text x="370.04" y="293.37" font-size="4.8" font-weight="bold" letter-spacing="0.7" fill="#000">10<tspan dx="-0.5" dy="-3" font-size="4.4">0</tspan></text><text x="384.34" y="293.37" font-size="4.8" font-weight="bold" letter-spacing="0.7" fill="#000">10<tspan dx="-0.5" dy="-3" font-size="4.4">1</tspan></text><text x="398.64" y="293.37" font-size="4.8" font-weight="bold" letter-spacing="0.7" fill="#000">10<tspan dx="-0.5" dy="-3" font-size="4.4">2</tspan></text><text x="412.94" y="293.37" font-size="4.8" font-weight="bold" letter-spacing="0.7" fill="#000">10<tspan dx="-0.5" dy="-3" font-size="4.4">3</tspan></text><text x="427.24" y="293.37" font-size="4.8" font-weight="bold" letter-spacing="0.7" fill="#000">10<tspan dx="-0.5" dy="-3" font-size="4.4">4</tspan></text><text x="400.54" y="298.57" font-size="4.6" font-weight="bold" text-anchor="middle" textLength="11.6" lengthAdjust="spacingAndGlyphs" fill="#000" stroke="#000" stroke-width="0.2">FL2-H</text><text x="362.44" y="263.55" font-size="4.6" font-weight="bold" text-anchor="middle" dominant-baseline="central" transform="rotate(-90 362.44 263.55)" fill="#111">Counts</text><text x="365.74" y="244.72" font-size="7.4" font-weight="bold" textLength="3.8" lengthAdjust="spacingAndGlyphs" fill="#111">S</text><text x="367.74" y="283.57" font-size="5.4" font-weight="bold" text-anchor="middle" dominant-baseline="central" transform="rotate(-90 367.74 283.57)" fill="#333">0</text></g>
<g><polygon points="458.45,284.08 458.45,276.69 459.31,280.38 460.54,282.23 467.31,283.09 505.46,282.85 507.31,281.62 508.17,279.15 508.91,275.46 509.52,269.31 510.14,260.69 510.63,253.31 511.12,248.38 511.62,244.08 512.23,242.48 514.8,242.23 514.8,284.08 514.8,284.84 458.45,284.84" fill="#000"/><polyline points="462.38,282.23 463.86,279.15 465.46,271.77 466.69,263.15 467.92,255.77 468.78,252.08 469.52,251.46 470.38,252.69 471.25,255.77 472.23,260.69 473.22,265.62 474.45,270.54 475.92,274.23 477.77,276.69 479.62,278.54 482.08,280.38 485.15,281.62" fill="none" stroke="#000" stroke-width="1.1" stroke-linejoin="round"/><rect x="458.1" y="283.44" width="56.7" height="1.4" fill="#000"/><rect x="458.1" y="241.99" width="56.7" height="42.85" fill="none" stroke="#000" stroke-width="1.2"/><line x1="458.1" y1="241.49" x2="458.1" y2="285.34" stroke="#000" stroke-width="1.7"/><path d="M456.3 249.13H458.1M456.3 256.27H458.1M456.3 263.42H458.1M456.3 270.56H458.1M456.3 277.7H458.1" stroke="#000" stroke-width="0.6"/><path d="M458.1 284.84v2.2M462.37 284.84v1.1M464.86 284.84v1.1M466.63 284.84v1.1M468.01 284.84v1.1M469.13 284.84v1.1M470.08 284.84v1.1M470.9 284.84v1.1M471.63 284.84v1.1M472.28 284.84v2.2M476.54 284.84v1.1M479.04 284.84v1.1M480.81 284.84v1.1M482.18 284.84v1.1M483.31 284.84v1.1M484.25 284.84v1.1M485.08 284.84v1.1M485.8 284.84v1.1M486.45 284.84v2.2M490.72 284.84v1.1M493.21 284.84v1.1M494.98 284.84v1.1M496.36 284.84v1.1M497.48 284.84v1.1M498.43 284.84v1.1M499.25 284.84v1.1M499.98 284.84v1.1M500.62 284.84v2.2M504.89 284.84v1.1M507.39 284.84v1.1M509.16 284.84v1.1M510.53 284.84v1.1M511.66 284.84v1.1M512.6 284.84v1.1M513.43 284.84v1.1M514.15 284.84v1.1M514.8 284.84v2.2" stroke="#000" stroke-width="0.5"/><text x="455.2" y="293.24" font-size="4.8" font-weight="bold" letter-spacing="0.7" fill="#000">10<tspan dx="-0.5" dy="-3" font-size="4.4">0</tspan></text><text x="469.38" y="293.24" font-size="4.8" font-weight="bold" letter-spacing="0.7" fill="#000">10<tspan dx="-0.5" dy="-3" font-size="4.4">1</tspan></text><text x="483.55" y="293.24" font-size="4.8" font-weight="bold" letter-spacing="0.7" fill="#000">10<tspan dx="-0.5" dy="-3" font-size="4.4">2</tspan></text><text x="497.73" y="293.24" font-size="4.8" font-weight="bold" letter-spacing="0.7" fill="#000">10<tspan dx="-0.5" dy="-3" font-size="4.4">3</tspan></text><text x="511.9" y="293.24" font-size="4.8" font-weight="bold" letter-spacing="0.7" fill="#000">10<tspan dx="-0.5" dy="-3" font-size="4.4">4</tspan></text><text x="485.45" y="298.44" font-size="4.6" font-weight="bold" text-anchor="middle" textLength="11.6" lengthAdjust="spacingAndGlyphs" fill="#000" stroke="#000" stroke-width="0.2">FL2-H</text><text x="447.6" y="263.42" font-size="4.6" font-weight="bold" text-anchor="middle" dominant-baseline="central" transform="rotate(-90 447.6 263.42)" fill="#111">Counts</text><text x="450.9" y="244.59" font-size="7.4" font-weight="bold" textLength="3.8" lengthAdjust="spacingAndGlyphs" fill="#111">S</text><text x="452.9" y="283.44" font-size="5.4" font-weight="bold" text-anchor="middle" dominant-baseline="central" transform="rotate(-90 452.9 283.44)" fill="#333">0</text></g>
<g><polygon points="118.1,354.69 118.1,346.69 118.94,349.77 119.92,352.23 122.38,353.46 126.08,352.85 128.54,351.62 131,349.77 133.46,347.92 135.31,345.46 136.54,343.62 137.77,341.77 139,340.54 140.23,339.31 141.46,339.92 142.32,338.69 143.31,340.54 144.54,342.38 145.77,344.23 147,345.46 148.23,344.85 149.46,346.69 151.31,347.92 153.15,349.15 155,350.38 156.85,351.62 158.69,349.77 159.92,348.54 161.15,349.15 162.38,348.54 163.62,347.92 164.85,347.31 166.08,347.92 167.31,349.15 168.54,350.38 169.77,351 171,351.62 172.23,352.85 175.31,354.08 175.31,354.69 175.31,356.5 118.1,356.5" fill="#000"/><polyline points="121.77,352.85 123,349.15 124.23,341.77 125.22,331.92 126.08,323.31 126.94,318.38 127.68,314.69 128.17,313.71 128.78,317.15 129.52,323.31 130.38,331.92 131.25,339.31 132.23,344.23 133.46,346.69 134.69,347.92" fill="none" stroke="#000" stroke-width="1.1" stroke-linejoin="round"/><rect x="118.1" y="355.1" width="57.3" height="1.4" fill="#000"/><rect x="118.1" y="313.65" width="57.3" height="42.85" fill="none" stroke="#000" stroke-width="1.2"/><line x1="118.1" y1="313.15" x2="118.1" y2="357" stroke="#000" stroke-width="1.7"/><path d="M116.3 320.79H118.1M116.3 327.93H118.1M116.3 335.07H118.1M116.3 342.22H118.1M116.3 349.36H118.1" stroke="#000" stroke-width="0.6"/><path d="M118.1 356.5v2.2M122.41 356.5v1.1M124.93 356.5v1.1M126.72 356.5v1.1M128.11 356.5v1.1M129.25 356.5v1.1M130.21 356.5v1.1M131.04 356.5v1.1M131.77 356.5v1.1M132.42 356.5v2.2M136.74 356.5v1.1M139.26 356.5v1.1M141.05 356.5v1.1M142.44 356.5v1.1M143.57 356.5v1.1M144.53 356.5v1.1M145.36 356.5v1.1M146.09 356.5v1.1M146.75 356.5v2.2M151.06 356.5v1.1M153.58 356.5v1.1M155.37 356.5v1.1M156.76 356.5v1.1M157.9 356.5v1.1M158.86 356.5v1.1M159.69 356.5v1.1M160.42 356.5v1.1M161.07 356.5v2.2M165.39 356.5v1.1M167.91 356.5v1.1M169.7 356.5v1.1M171.09 356.5v1.1M172.22 356.5v1.1M173.18 356.5v1.1M174.01 356.5v1.1M174.74 356.5v1.1M175.4 356.5v2.2" stroke="#000" stroke-width="0.5"/><text x="115.2" y="364.9" font-size="4.8" font-weight="bold" letter-spacing="0.7" fill="#000">10<tspan dx="-0.5" dy="-3" font-size="4.4">0</tspan></text><text x="129.52" y="364.9" font-size="4.8" font-weight="bold" letter-spacing="0.7" fill="#000">10<tspan dx="-0.5" dy="-3" font-size="4.4">1</tspan></text><text x="143.85" y="364.9" font-size="4.8" font-weight="bold" letter-spacing="0.7" fill="#000">10<tspan dx="-0.5" dy="-3" font-size="4.4">2</tspan></text><text x="158.17" y="364.9" font-size="4.8" font-weight="bold" letter-spacing="0.7" fill="#000">10<tspan dx="-0.5" dy="-3" font-size="4.4">3</tspan></text><text x="172.5" y="364.9" font-size="4.8" font-weight="bold" letter-spacing="0.7" fill="#000">10<tspan dx="-0.5" dy="-3" font-size="4.4">4</tspan></text><text x="145.75" y="370.1" font-size="4.6" font-weight="bold" text-anchor="middle" textLength="11.6" lengthAdjust="spacingAndGlyphs" fill="#000" stroke="#000" stroke-width="0.2">FL2-H</text><text x="107.6" y="335.07" font-size="4.6" font-weight="bold" text-anchor="middle" dominant-baseline="central" transform="rotate(-90 107.6 335.07)" fill="#111">Counts</text><text x="110.9" y="316.25" font-size="7.4" font-weight="bold" textLength="3.8" lengthAdjust="spacingAndGlyphs" fill="#111">S</text><text x="112.9" y="355.1" font-size="5.4" font-weight="bold" text-anchor="middle" dominant-baseline="central" transform="rotate(-90 112.9 355.1)" fill="#333">0</text></g>
<g><polygon points="203.3,354.69 203.3,346.69 203.94,349.77 204.92,352.23 207.38,353.46 211.08,352.85 213.54,351.62 215.38,349.77 217.23,347.92 219.08,347.92 220.92,349.15 223.38,349.77 225.85,350.38 228.31,349.15 229.29,347.92 230.15,349.15 231.38,348.54 232.62,349.15 233.85,347.92 235.08,346.08 236.31,343 237.54,339.92 238.77,336.85 240,335.62 241.23,333.77 242.46,332.54 243.08,334.38 244.06,338.08 245.29,341.77 246.52,345.46 247.75,348.54 249.23,351 251.69,352.85 255.38,353.83 260.1,354.32 260.1,354.69 260.1,356.37 203.3,356.37" fill="#000"/><polyline points="206.77,352.85 208,347.92 209.23,339.31 210.46,329.46 211.45,320.85 212.31,315.92 212.92,314.08 213.54,317.15 214.52,323.31 215.38,331.92 216.37,339.31 217.23,343.62 218.46,346.08 219.69,347.31" fill="none" stroke="#000" stroke-width="1.1" stroke-linejoin="round"/><rect x="203.3" y="354.97" width="56.8" height="1.4" fill="#000"/><rect x="203.3" y="313.52" width="56.8" height="42.85" fill="none" stroke="#000" stroke-width="1.2"/><line x1="203.3" y1="313.02" x2="203.3" y2="356.87" stroke="#000" stroke-width="1.7"/><path d="M201.5 320.66H203.3M201.5 327.8H203.3M201.5 334.94H203.3M201.5 342.09H203.3M201.5 349.23H203.3" stroke="#000" stroke-width="0.6"/><path d="M203.3 356.37v2.2M207.57 356.37v1.1M210.08 356.37v1.1M211.85 356.37v1.1M213.23 356.37v1.1M214.35 356.37v1.1M215.3 356.37v1.1M216.12 356.37v1.1M216.85 356.37v1.1M217.5 356.37v2.2M221.77 356.37v1.1M224.28 356.37v1.1M226.05 356.37v1.1M227.43 356.37v1.1M228.55 356.37v1.1M229.5 356.37v1.1M230.32 356.37v1.1M231.05 356.37v1.1M231.7 356.37v2.2M235.97 356.37v1.1M238.48 356.37v1.1M240.25 356.37v1.1M241.63 356.37v1.1M242.75 356.37v1.1M243.7 356.37v1.1M244.52 356.37v1.1M245.25 356.37v1.1M245.9 356.37v2.2M250.17 356.37v1.1M252.68 356.37v1.1M254.45 356.37v1.1M255.83 356.37v1.1M256.95 356.37v1.1M257.9 356.37v1.1M258.72 356.37v1.1M259.45 356.37v1.1M260.1 356.37v2.2" stroke="#000" stroke-width="0.5"/><text x="200.4" y="364.77" font-size="4.8" font-weight="bold" letter-spacing="0.7" fill="#000">10<tspan dx="-0.5" dy="-3" font-size="4.4">0</tspan></text><text x="214.6" y="364.77" font-size="4.8" font-weight="bold" letter-spacing="0.7" fill="#000">10<tspan dx="-0.5" dy="-3" font-size="4.4">1</tspan></text><text x="228.8" y="364.77" font-size="4.8" font-weight="bold" letter-spacing="0.7" fill="#000">10<tspan dx="-0.5" dy="-3" font-size="4.4">2</tspan></text><text x="243" y="364.77" font-size="4.8" font-weight="bold" letter-spacing="0.7" fill="#000">10<tspan dx="-0.5" dy="-3" font-size="4.4">3</tspan></text><text x="257.2" y="364.77" font-size="4.8" font-weight="bold" letter-spacing="0.7" fill="#000">10<tspan dx="-0.5" dy="-3" font-size="4.4">4</tspan></text><text x="230.7" y="369.97" font-size="4.6" font-weight="bold" text-anchor="middle" textLength="11.6" lengthAdjust="spacingAndGlyphs" fill="#000" stroke="#000" stroke-width="0.2">FL2-H</text><text x="192.8" y="334.94" font-size="4.6" font-weight="bold" text-anchor="middle" dominant-baseline="central" transform="rotate(-90 192.8 334.94)" fill="#111">Counts</text><text x="196.1" y="316.12" font-size="7.4" font-weight="bold" textLength="3.8" lengthAdjust="spacingAndGlyphs" fill="#111">S</text><text x="198.1" y="354.97" font-size="5.4" font-weight="bold" text-anchor="middle" dominant-baseline="central" transform="rotate(-90 198.1 354.97)" fill="#333">0</text></g>
<g><polygon points="288.31,354.32 288.31,345.46 289.17,349.15 290.15,352.23 293.85,353.46 320.92,352.85 323.38,351.62 325.23,350.38 326.46,347.92 327.69,344.23 328.92,340.54 330.15,336.85 331.14,333.15 332,329.46 332.98,325.77 333.85,323.31 334.46,322.69 335.08,325.15 335.94,329.46 336.92,335.62 338.15,341.77 339.38,346.69 340.62,350.38 342.46,352.85 344.6,353.83 344.6,354.32 344.6,356.25 288.31,356.25" fill="#000"/><polyline points="291.38,352.85 292.62,349.15 293.85,341.77 295.08,333.15 296.31,324.54 297.29,318.38 298.15,314.08 298.77,313.4 299.38,315.92 300.25,323.31 301.23,331.92 302.22,339.31 303.45,346.69 304.68,350.38 306.15,351.62 308.62,352.23" fill="none" stroke="#000" stroke-width="1.1" stroke-linejoin="round"/><rect x="288" y="354.85" width="56.6" height="1.4" fill="#000"/><rect x="288" y="313.4" width="56.6" height="42.85" fill="none" stroke="#000" stroke-width="1.2"/><line x1="288" y1="312.9" x2="288" y2="356.75" stroke="#000" stroke-width="1.7"/><path d="M286.2 320.54H288M286.2 327.68H288M286.2 334.82H288M286.2 341.97H288M286.2 349.11H288" stroke="#000" stroke-width="0.6"/><path d="M288 356.25v2.2M292.26 356.25v1.1M294.75 356.25v1.1M296.52 356.25v1.1M297.89 356.25v1.1M299.01 356.25v1.1M299.96 356.25v1.1M300.78 356.25v1.1M301.5 356.25v1.1M302.15 356.25v2.2M306.41 356.25v1.1M308.9 356.25v1.1M310.67 356.25v1.1M312.04 356.25v1.1M313.16 356.25v1.1M314.11 356.25v1.1M314.93 356.25v1.1M315.65 356.25v1.1M316.3 356.25v2.2M320.56 356.25v1.1M323.05 356.25v1.1M324.82 356.25v1.1M326.19 356.25v1.1M327.31 356.25v1.1M328.26 356.25v1.1M329.08 356.25v1.1M329.8 356.25v1.1M330.45 356.25v2.2M334.71 356.25v1.1M337.2 356.25v1.1M338.97 356.25v1.1M340.34 356.25v1.1M341.46 356.25v1.1M342.41 356.25v1.1M343.23 356.25v1.1M343.95 356.25v1.1M344.6 356.25v2.2" stroke="#000" stroke-width="0.5"/><text x="285.1" y="364.65" font-size="4.8" font-weight="bold" letter-spacing="0.7" fill="#000">10<tspan dx="-0.5" dy="-3" font-size="4.4">0</tspan></text><text x="299.25" y="364.65" font-size="4.8" font-weight="bold" letter-spacing="0.7" fill="#000">10<tspan dx="-0.5" dy="-3" font-size="4.4">1</tspan></text><text x="313.4" y="364.65" font-size="4.8" font-weight="bold" letter-spacing="0.7" fill="#000">10<tspan dx="-0.5" dy="-3" font-size="4.4">2</tspan></text><text x="327.55" y="364.65" font-size="4.8" font-weight="bold" letter-spacing="0.7" fill="#000">10<tspan dx="-0.5" dy="-3" font-size="4.4">3</tspan></text><text x="341.7" y="364.65" font-size="4.8" font-weight="bold" letter-spacing="0.7" fill="#000">10<tspan dx="-0.5" dy="-3" font-size="4.4">4</tspan></text><text x="315.3" y="369.85" font-size="4.6" font-weight="bold" text-anchor="middle" textLength="11.6" lengthAdjust="spacingAndGlyphs" fill="#000" stroke="#000" stroke-width="0.2">FL2-H</text><text x="277.5" y="334.82" font-size="4.6" font-weight="bold" text-anchor="middle" dominant-baseline="central" transform="rotate(-90 277.5 334.82)" fill="#111">Counts</text><text x="280.8" y="316" font-size="7.4" font-weight="bold" textLength="3.8" lengthAdjust="spacingAndGlyphs" fill="#111">S</text><text x="282.8" y="354.85" font-size="5.4" font-weight="bold" text-anchor="middle" dominant-baseline="central" transform="rotate(-90 282.8 354.85)" fill="#333">0</text></g>
<g><polygon points="373.45,354.32 373.45,346.69 374.31,349.77 375.54,352.23 379.85,353.46 404.46,352.85 406.31,351 407.54,348.54 408.77,346.08 410,344.23 411.23,343 412.46,339.31 413.69,336.85 414.92,334.38 415.78,329.46 416.77,326.38 417.75,325.77 418.62,327 419.48,329.46 420.22,334.38 420.83,338.08 421.45,341.77 422.31,345.46 423.17,347.92 424.15,350.38 426,352.23 428.46,353.46 430.31,354.08 430.31,354.32 430.31,356.13 373.45,356.13" fill="#000"/><polyline points="376.15,352.85 377.38,349.15 378.62,341.77 379.85,331.92 381.08,322.08 382.06,318.38 382.92,315.31 383.54,314.08 384.15,317.15 385.02,323.31 386,331.92 386.98,339.31 388.22,345.46 389.69,349.15 392.15,351.62 395.85,352.85" fill="none" stroke="#000" stroke-width="1.1" stroke-linejoin="round"/><rect x="373.12" y="354.73" width="57.2" height="1.4" fill="#000"/><rect x="373.12" y="313.28" width="57.2" height="42.85" fill="none" stroke="#000" stroke-width="1.2"/><line x1="373.12" y1="312.78" x2="373.12" y2="356.63" stroke="#000" stroke-width="1.7"/><path d="M371.32 320.42H373.12M371.32 327.56H373.12M371.32 334.7H373.12M371.32 341.85H373.12M371.32 348.99H373.12" stroke="#000" stroke-width="0.6"/><path d="M373.12 356.13v2.2M377.42 356.13v1.1M379.94 356.13v1.1M381.73 356.13v1.1M383.12 356.13v1.1M384.25 356.13v1.1M385.2 356.13v1.1M386.03 356.13v1.1M386.77 356.13v1.1M387.42 356.13v2.2M391.72 356.13v1.1M394.24 356.13v1.1M396.03 356.13v1.1M397.42 356.13v1.1M398.55 356.13v1.1M399.5 356.13v1.1M400.33 356.13v1.1M401.07 356.13v1.1M401.72 356.13v2.2M406.02 356.13v1.1M408.54 356.13v1.1M410.33 356.13v1.1M411.72 356.13v1.1M412.85 356.13v1.1M413.8 356.13v1.1M414.63 356.13v1.1M415.37 356.13v1.1M416.02 356.13v2.2M420.32 356.13v1.1M422.84 356.13v1.1M424.63 356.13v1.1M426.02 356.13v1.1M427.15 356.13v1.1M428.1 356.13v1.1M428.93 356.13v1.1M429.67 356.13v1.1M430.32 356.13v2.2" stroke="#000" stroke-width="0.5"/><text x="370.22" y="364.53" font-size="4.8" font-weight="bold" letter-spacing="0.7" fill="#000">10<tspan dx="-0.5" dy="-3" font-size="4.4">0</tspan></text><text x="384.52" y="364.53" font-size="4.8" font-weight="bold" letter-spacing="0.7" fill="#000">10<tspan dx="-0.5" dy="-3" font-size="4.4">1</tspan></text><text x="398.82" y="364.53" font-size="4.8" font-weight="bold" letter-spacing="0.7" fill="#000">10<tspan dx="-0.5" dy="-3" font-size="4.4">2</tspan></text><text x="413.12" y="364.53" font-size="4.8" font-weight="bold" letter-spacing="0.7" fill="#000">10<tspan dx="-0.5" dy="-3" font-size="4.4">3</tspan></text><text x="427.42" y="364.53" font-size="4.8" font-weight="bold" letter-spacing="0.7" fill="#000">10<tspan dx="-0.5" dy="-3" font-size="4.4">4</tspan></text><text x="400.72" y="369.73" font-size="4.6" font-weight="bold" text-anchor="middle" textLength="11.6" lengthAdjust="spacingAndGlyphs" fill="#000" stroke="#000" stroke-width="0.2">FL2-H</text><text x="362.62" y="334.7" font-size="4.6" font-weight="bold" text-anchor="middle" dominant-baseline="central" transform="rotate(-90 362.62 334.7)" fill="#111">Counts</text><text x="365.92" y="315.88" font-size="7.4" font-weight="bold" textLength="3.8" lengthAdjust="spacingAndGlyphs" fill="#111">S</text><text x="367.92" y="354.73" font-size="5.4" font-weight="bold" text-anchor="middle" dominant-baseline="central" transform="rotate(-90 367.92 354.73)" fill="#333">0</text></g>
<g><polygon points="458.45,354.32 458.45,346.69 459.31,349.77 460.54,352.23 464.85,353.46 501.77,353.09 503.62,351.62 504.85,349.15 505.71,346.69 506.45,343 507.31,335.62 507.92,331.92 508.54,332.54 509.15,328.23 509.77,323.31 510.38,319 511,316.54 511.62,315.92 512.23,317.77 512.85,320.23 513.46,323.31 514.08,324.54 514.69,325.77 514.8,324.54 514.8,354.32 514.8,356 458.45,356" fill="#000"/><polyline points="461.15,352.85 462.38,349.15 463.62,341.77 464.85,331.92 466.08,322.08 466.94,319 467.92,315.31 468.54,313.71 469.15,317.15 470.02,323.31 471,331.92 471.98,339.31 473.22,345.46 474.69,349.15 476.54,351.62 479.62,352.85" fill="none" stroke="#000" stroke-width="1.1" stroke-linejoin="round"/><rect x="458.1" y="354.6" width="56.7" height="1.4" fill="#000"/><rect x="458.1" y="313.15" width="56.7" height="42.85" fill="none" stroke="#000" stroke-width="1.2"/><line x1="458.1" y1="312.65" x2="458.1" y2="356.5" stroke="#000" stroke-width="1.7"/><path d="M456.3 320.29H458.1M456.3 327.43H458.1M456.3 334.57H458.1M456.3 341.72H458.1M456.3 348.86H458.1" stroke="#000" stroke-width="0.6"/><path d="M458.1 356v2.2M462.37 356v1.1M464.86 356v1.1M466.63 356v1.1M468.01 356v1.1M469.13 356v1.1M470.08 356v1.1M470.9 356v1.1M471.63 356v1.1M472.28 356v2.2M476.54 356v1.1M479.04 356v1.1M480.81 356v1.1M482.18 356v1.1M483.31 356v1.1M484.25 356v1.1M485.08 356v1.1M485.8 356v1.1M486.45 356v2.2M490.72 356v1.1M493.21 356v1.1M494.98 356v1.1M496.36 356v1.1M497.48 356v1.1M498.43 356v1.1M499.25 356v1.1M499.98 356v1.1M500.62 356v2.2M504.89 356v1.1M507.39 356v1.1M509.16 356v1.1M510.53 356v1.1M511.66 356v1.1M512.6 356v1.1M513.43 356v1.1M514.15 356v1.1M514.8 356v2.2" stroke="#000" stroke-width="0.5"/><text x="455.2" y="364.4" font-size="4.8" font-weight="bold" letter-spacing="0.7" fill="#000">10<tspan dx="-0.5" dy="-3" font-size="4.4">0</tspan></text><text x="469.38" y="364.4" font-size="4.8" font-weight="bold" letter-spacing="0.7" fill="#000">10<tspan dx="-0.5" dy="-3" font-size="4.4">1</tspan></text><text x="483.55" y="364.4" font-size="4.8" font-weight="bold" letter-spacing="0.7" fill="#000">10<tspan dx="-0.5" dy="-3" font-size="4.4">2</tspan></text><text x="497.73" y="364.4" font-size="4.8" font-weight="bold" letter-spacing="0.7" fill="#000">10<tspan dx="-0.5" dy="-3" font-size="4.4">3</tspan></text><text x="511.9" y="364.4" font-size="4.8" font-weight="bold" letter-spacing="0.7" fill="#000">10<tspan dx="-0.5" dy="-3" font-size="4.4">4</tspan></text><text x="485.45" y="369.6" font-size="4.6" font-weight="bold" text-anchor="middle" textLength="11.6" lengthAdjust="spacingAndGlyphs" fill="#000" stroke="#000" stroke-width="0.2">FL2-H</text><text x="447.6" y="334.57" font-size="4.6" font-weight="bold" text-anchor="middle" dominant-baseline="central" transform="rotate(-90 447.6 334.57)" fill="#111">Counts</text><text x="450.9" y="315.75" font-size="7.4" font-weight="bold" textLength="3.8" lengthAdjust="spacingAndGlyphs" fill="#111">S</text><text x="452.9" y="354.6" font-size="5.4" font-weight="bold" text-anchor="middle" dominant-baseline="central" transform="rotate(-90 452.9 354.6)" fill="#333">0</text></g>
<g><polygon points="118.1,425.69 118.1,417.69 118.94,420.77 119.92,422.62 122.38,423.85 127.31,423.23 131,422 134.69,422 138.38,422.62 140.85,421.38 142.32,419.54 143.55,418.92 144.54,420.15 145.77,418.31 147,416.46 147.98,415.23 148.85,415.85 149.71,414.62 150.69,416.46 151.92,414.62 152.91,412.15 154.14,410.31 155.12,406 155.86,404.77 156.85,406 157.83,404.15 158.69,403.54 159.31,402.92 159.92,404.77 160.78,406.62 161.52,408.46 162.38,412.77 163.25,416.46 164.23,419.54 165.46,422.62 167.31,424.46 170.38,425.08 175.31,425.69 175.31,426.7 118.1,426.7" fill="#000"/><polyline points="122.38,422.62 123.37,420.15 124.23,412.77 125.22,402.92 126.08,393.08 126.94,386.92 127.31,384.46 128.29,384.22 128.78,386.92 129.52,394.31 130.38,402.92 131.25,411.54 132.23,417.69 133.22,420.15 134.45,421.38" fill="none" stroke="#000" stroke-width="1.1" stroke-linejoin="round"/><rect x="118.1" y="425.3" width="57.3" height="1.4" fill="#000"/><rect x="118.1" y="383.85" width="57.3" height="42.85" fill="none" stroke="#000" stroke-width="1.2"/><line x1="118.1" y1="383.35" x2="118.1" y2="427.2" stroke="#000" stroke-width="1.7"/><path d="M116.3 390.99H118.1M116.3 398.13H118.1M116.3 405.28H118.1M116.3 412.42H118.1M116.3 419.56H118.1" stroke="#000" stroke-width="0.6"/><path d="M118.1 426.7v2.2M122.41 426.7v1.1M124.93 426.7v1.1M126.72 426.7v1.1M128.11 426.7v1.1M129.25 426.7v1.1M130.21 426.7v1.1M131.04 426.7v1.1M131.77 426.7v1.1M132.42 426.7v2.2M136.74 426.7v1.1M139.26 426.7v1.1M141.05 426.7v1.1M142.44 426.7v1.1M143.57 426.7v1.1M144.53 426.7v1.1M145.36 426.7v1.1M146.09 426.7v1.1M146.75 426.7v2.2M151.06 426.7v1.1M153.58 426.7v1.1M155.37 426.7v1.1M156.76 426.7v1.1M157.9 426.7v1.1M158.86 426.7v1.1M159.69 426.7v1.1M160.42 426.7v1.1M161.07 426.7v2.2M165.39 426.7v1.1M167.91 426.7v1.1M169.7 426.7v1.1M171.09 426.7v1.1M172.22 426.7v1.1M173.18 426.7v1.1M174.01 426.7v1.1M174.74 426.7v1.1M175.4 426.7v2.2" stroke="#000" stroke-width="0.5"/><text x="115.2" y="435.1" font-size="4.8" font-weight="bold" letter-spacing="0.7" fill="#000">10<tspan dx="-0.5" dy="-3" font-size="4.4">0</tspan></text><text x="129.52" y="435.1" font-size="4.8" font-weight="bold" letter-spacing="0.7" fill="#000">10<tspan dx="-0.5" dy="-3" font-size="4.4">1</tspan></text><text x="143.85" y="435.1" font-size="4.8" font-weight="bold" letter-spacing="0.7" fill="#000">10<tspan dx="-0.5" dy="-3" font-size="4.4">2</tspan></text><text x="158.17" y="435.1" font-size="4.8" font-weight="bold" letter-spacing="0.7" fill="#000">10<tspan dx="-0.5" dy="-3" font-size="4.4">3</tspan></text><text x="172.5" y="435.1" font-size="4.8" font-weight="bold" letter-spacing="0.7" fill="#000">10<tspan dx="-0.5" dy="-3" font-size="4.4">4</tspan></text><text x="145.75" y="440.3" font-size="4.6" font-weight="bold" text-anchor="middle" textLength="11.6" lengthAdjust="spacingAndGlyphs" fill="#000" stroke="#000" stroke-width="0.2">FL2-H</text><text x="107.6" y="405.28" font-size="4.6" font-weight="bold" text-anchor="middle" dominant-baseline="central" transform="rotate(-90 107.6 405.28)" fill="#111">Counts</text><text x="110.9" y="386.45" font-size="7.4" font-weight="bold" textLength="3.8" lengthAdjust="spacingAndGlyphs" fill="#111">S</text><text x="112.9" y="425.3" font-size="5.4" font-weight="bold" text-anchor="middle" dominant-baseline="central" transform="rotate(-90 112.9 425.3)" fill="#333">0</text></g>
<g><polygon points="203.3,425.69 203.3,417.69 203.94,420.15 204.92,422 206.77,422.62 208,420.15 209.23,412.77 210.22,404.15 211.08,395.54 211.94,388.15 212.68,384.46 213.29,385.08 213.91,389.38 214.52,394.31 215.38,396.77 216.25,401.69 217.23,406.62 218.22,411.54 219.08,415.23 220.31,417.69 222.15,419.54 224.62,420.77 227.69,422 230.77,422.62 234.46,423.23 236.92,423.23 238.15,421.38 239.14,420.15 240,421.14 241.23,422 242.46,422.62 243.69,421.38 244.92,422 245.78,422.62 246.77,423.85 249.23,424.83 252.92,425.32 259.69,425.69 259.69,426.57 203.3,426.57" fill="#000"/><polyline points="205.54,422.62 206.77,418.92 208,411.54 209.23,401.69 210.46,391.85 211.45,385.69 212.31,383.85 213.17,384.22 213.78,388.15 214.52,394.31 215.38,400.46" fill="none" stroke="#000" stroke-width="1.1" stroke-linejoin="round"/><rect x="203.3" y="425.17" width="56.8" height="1.4" fill="#000"/><rect x="203.3" y="383.72" width="56.8" height="42.85" fill="none" stroke="#000" stroke-width="1.2"/><line x1="203.3" y1="383.22" x2="203.3" y2="427.07" stroke="#000" stroke-width="1.7"/><path d="M201.5 390.86H203.3M201.5 398H203.3M201.5 405.15H203.3M201.5 412.29H203.3M201.5 419.43H203.3" stroke="#000" stroke-width="0.6"/><path d="M203.3 426.57v2.2M207.57 426.57v1.1M210.08 426.57v1.1M211.85 426.57v1.1M213.23 426.57v1.1M214.35 426.57v1.1M215.3 426.57v1.1M216.12 426.57v1.1M216.85 426.57v1.1M217.5 426.57v2.2M221.77 426.57v1.1M224.28 426.57v1.1M226.05 426.57v1.1M227.43 426.57v1.1M228.55 426.57v1.1M229.5 426.57v1.1M230.32 426.57v1.1M231.05 426.57v1.1M231.7 426.57v2.2M235.97 426.57v1.1M238.48 426.57v1.1M240.25 426.57v1.1M241.63 426.57v1.1M242.75 426.57v1.1M243.7 426.57v1.1M244.52 426.57v1.1M245.25 426.57v1.1M245.9 426.57v2.2M250.17 426.57v1.1M252.68 426.57v1.1M254.45 426.57v1.1M255.83 426.57v1.1M256.95 426.57v1.1M257.9 426.57v1.1M258.72 426.57v1.1M259.45 426.57v1.1M260.1 426.57v2.2" stroke="#000" stroke-width="0.5"/><text x="200.4" y="434.97" font-size="4.8" font-weight="bold" letter-spacing="0.7" fill="#000">10<tspan dx="-0.5" dy="-3" font-size="4.4">0</tspan></text><text x="214.6" y="434.97" font-size="4.8" font-weight="bold" letter-spacing="0.7" fill="#000">10<tspan dx="-0.5" dy="-3" font-size="4.4">1</tspan></text><text x="228.8" y="434.97" font-size="4.8" font-weight="bold" letter-spacing="0.7" fill="#000">10<tspan dx="-0.5" dy="-3" font-size="4.4">2</tspan></text><text x="243" y="434.97" font-size="4.8" font-weight="bold" letter-spacing="0.7" fill="#000">10<tspan dx="-0.5" dy="-3" font-size="4.4">3</tspan></text><text x="257.2" y="434.97" font-size="4.8" font-weight="bold" letter-spacing="0.7" fill="#000">10<tspan dx="-0.5" dy="-3" font-size="4.4">4</tspan></text><text x="230.7" y="440.17" font-size="4.6" font-weight="bold" text-anchor="middle" textLength="11.6" lengthAdjust="spacingAndGlyphs" fill="#000" stroke="#000" stroke-width="0.2">FL2-H</text><text x="192.8" y="405.15" font-size="4.6" font-weight="bold" text-anchor="middle" dominant-baseline="central" transform="rotate(-90 192.8 405.15)" fill="#111">Counts</text><text x="196.1" y="386.32" font-size="7.4" font-weight="bold" textLength="3.8" lengthAdjust="spacingAndGlyphs" fill="#111">S</text><text x="198.1" y="425.17" font-size="5.4" font-weight="bold" text-anchor="middle" dominant-baseline="central" transform="rotate(-90 198.1 425.17)" fill="#333">0</text></g>
<g><polygon points="288.31,425.32 288.31,416.46 289.17,418.92 290.15,421.38 292,423.23 296.31,423.85 301.23,423.23 304.92,421.38 306.77,419.54 308,417.69 309.23,416.46 310.46,414.62 311.32,411.54 312.06,409.08 312.92,409.69 313.54,412.77 314.52,412.15 315.75,412.77 316.62,414 317.48,413.38 318.46,415.23 319.69,415.85 320.92,415.23 322.15,416.46 323.38,415.23 324.62,415.85 325.85,414 326.46,413.38 327.08,415.85 328.31,417.08 329.78,418.92 331.02,415.85 331.75,414.62 332.37,416.46 333.23,418.92 334.46,420.15 335.69,420.77 336.92,421.38 338.77,422.62 340.62,423.85 343.08,424.46 344.6,425.08 344.6,426.45 288.31,426.45" fill="#000"/><polyline points="291.38,422.62 292.86,418.92 294.09,410.31 295.32,400.46 296.31,391.85 297.29,385.69 298.15,383.85 299.02,384.46 299.75,388.15 300.62,395.54 301.48,404.15 302.46,412.77 303.45,417.69 304.68,420.15 306.15,421.38" fill="none" stroke="#000" stroke-width="1.1" stroke-linejoin="round"/><rect x="288" y="425.05" width="56.6" height="1.4" fill="#000"/><rect x="288" y="383.6" width="56.6" height="42.85" fill="none" stroke="#000" stroke-width="1.2"/><line x1="288" y1="383.1" x2="288" y2="426.95" stroke="#000" stroke-width="1.7"/><path d="M286.2 390.74H288M286.2 397.88H288M286.2 405.03H288M286.2 412.17H288M286.2 419.31H288" stroke="#000" stroke-width="0.6"/><path d="M288 426.45v2.2M292.26 426.45v1.1M294.75 426.45v1.1M296.52 426.45v1.1M297.89 426.45v1.1M299.01 426.45v1.1M299.96 426.45v1.1M300.78 426.45v1.1M301.5 426.45v1.1M302.15 426.45v2.2M306.41 426.45v1.1M308.9 426.45v1.1M310.67 426.45v1.1M312.04 426.45v1.1M313.16 426.45v1.1M314.11 426.45v1.1M314.93 426.45v1.1M315.65 426.45v1.1M316.3 426.45v2.2M320.56 426.45v1.1M323.05 426.45v1.1M324.82 426.45v1.1M326.19 426.45v1.1M327.31 426.45v1.1M328.26 426.45v1.1M329.08 426.45v1.1M329.8 426.45v1.1M330.45 426.45v2.2M334.71 426.45v1.1M337.2 426.45v1.1M338.97 426.45v1.1M340.34 426.45v1.1M341.46 426.45v1.1M342.41 426.45v1.1M343.23 426.45v1.1M343.95 426.45v1.1M344.6 426.45v2.2" stroke="#000" stroke-width="0.5"/><text x="285.1" y="434.85" font-size="4.8" font-weight="bold" letter-spacing="0.7" fill="#000">10<tspan dx="-0.5" dy="-3" font-size="4.4">0</tspan></text><text x="299.25" y="434.85" font-size="4.8" font-weight="bold" letter-spacing="0.7" fill="#000">10<tspan dx="-0.5" dy="-3" font-size="4.4">1</tspan></text><text x="313.4" y="434.85" font-size="4.8" font-weight="bold" letter-spacing="0.7" fill="#000">10<tspan dx="-0.5" dy="-3" font-size="4.4">2</tspan></text><text x="327.55" y="434.85" font-size="4.8" font-weight="bold" letter-spacing="0.7" fill="#000">10<tspan dx="-0.5" dy="-3" font-size="4.4">3</tspan></text><text x="341.7" y="434.85" font-size="4.8" font-weight="bold" letter-spacing="0.7" fill="#000">10<tspan dx="-0.5" dy="-3" font-size="4.4">4</tspan></text><text x="315.3" y="440.05" font-size="4.6" font-weight="bold" text-anchor="middle" textLength="11.6" lengthAdjust="spacingAndGlyphs" fill="#000" stroke="#000" stroke-width="0.2">FL2-H</text><text x="277.5" y="405.03" font-size="4.6" font-weight="bold" text-anchor="middle" dominant-baseline="central" transform="rotate(-90 277.5 405.03)" fill="#111">Counts</text><text x="280.8" y="386.2" font-size="7.4" font-weight="bold" textLength="3.8" lengthAdjust="spacingAndGlyphs" fill="#111">S</text><text x="282.8" y="425.05" font-size="5.4" font-weight="bold" text-anchor="middle" dominant-baseline="central" transform="rotate(-90 282.8 425.05)" fill="#333">0</text></g>
<g><polygon points="373.45,425.32 373.45,417.69 374.31,420.15 375.54,422.62 379.85,424.46 392.15,423.85 394.62,423.23 396.46,422 398.06,420.15 399.54,417.69 400.77,414.62 402,410.31 402.98,406.62 403.85,402.92 404.71,398 405.45,394.31 406.31,393.08 406.92,393.69 407.66,396.77 408.52,401.69 409.38,406.62 410.62,411.54 411.85,415.85 413.08,418.92 414.55,421.38 416.52,423.23 419.23,424.09 424.15,424.83 430.31,425.32 430.31,426.33 373.45,426.33" fill="#000"/><polyline points="377.38,422.62 378.86,418.92 380.09,410.31 381.32,400.46 382.31,390.62 382.92,385.69 383.54,383.85 384.4,384.46 385.02,389.38 385.75,396.77 386.62,405.38 387.48,412.77 388.46,418.92 389.94,422 392.15,423.23 394.62,423.85" fill="none" stroke="#000" stroke-width="1.1" stroke-linejoin="round"/><rect x="373.3" y="424.93" width="57.2" height="1.4" fill="#000"/><rect x="373.3" y="383.48" width="57.2" height="42.85" fill="none" stroke="#000" stroke-width="1.2"/><line x1="373.3" y1="382.98" x2="373.3" y2="426.83" stroke="#000" stroke-width="1.7"/><path d="M371.5 390.62H373.3M371.5 397.76H373.3M371.5 404.91H373.3M371.5 412.05H373.3M371.5 419.19H373.3" stroke="#000" stroke-width="0.6"/><path d="M373.3 426.33v2.2M377.6 426.33v1.1M380.12 426.33v1.1M381.91 426.33v1.1M383.3 426.33v1.1M384.43 426.33v1.1M385.38 426.33v1.1M386.21 426.33v1.1M386.95 426.33v1.1M387.6 426.33v2.2M391.9 426.33v1.1M394.42 426.33v1.1M396.21 426.33v1.1M397.6 426.33v1.1M398.73 426.33v1.1M399.68 426.33v1.1M400.51 426.33v1.1M401.25 426.33v1.1M401.9 426.33v2.2M406.2 426.33v1.1M408.72 426.33v1.1M410.51 426.33v1.1M411.9 426.33v1.1M413.03 426.33v1.1M413.98 426.33v1.1M414.81 426.33v1.1M415.55 426.33v1.1M416.2 426.33v2.2M420.5 426.33v1.1M423.02 426.33v1.1M424.81 426.33v1.1M426.2 426.33v1.1M427.33 426.33v1.1M428.28 426.33v1.1M429.11 426.33v1.1M429.85 426.33v1.1M430.5 426.33v2.2" stroke="#000" stroke-width="0.5"/><text x="370.4" y="434.73" font-size="4.8" font-weight="bold" letter-spacing="0.7" fill="#000">10<tspan dx="-0.5" dy="-3" font-size="4.4">0</tspan></text><text x="384.7" y="434.73" font-size="4.8" font-weight="bold" letter-spacing="0.7" fill="#000">10<tspan dx="-0.5" dy="-3" font-size="4.4">1</tspan></text><text x="399" y="434.73" font-size="4.8" font-weight="bold" letter-spacing="0.7" fill="#000">10<tspan dx="-0.5" dy="-3" font-size="4.4">2</tspan></text><text x="413.3" y="434.73" font-size="4.8" font-weight="bold" letter-spacing="0.7" fill="#000">10<tspan dx="-0.5" dy="-3" font-size="4.4">3</tspan></text><text x="427.6" y="434.73" font-size="4.8" font-weight="bold" letter-spacing="0.7" fill="#000">10<tspan dx="-0.5" dy="-3" font-size="4.4">4</tspan></text><text x="400.9" y="439.93" font-size="4.6" font-weight="bold" text-anchor="middle" textLength="11.6" lengthAdjust="spacingAndGlyphs" fill="#000" stroke="#000" stroke-width="0.2">FL2-H</text><text x="362.8" y="404.91" font-size="4.6" font-weight="bold" text-anchor="middle" dominant-baseline="central" transform="rotate(-90 362.8 404.91)" fill="#111">Counts</text><text x="366.1" y="386.08" font-size="7.4" font-weight="bold" textLength="3.8" lengthAdjust="spacingAndGlyphs" fill="#111">S</text><text x="368.1" y="424.93" font-size="5.4" font-weight="bold" text-anchor="middle" dominant-baseline="central" transform="rotate(-90 368.1 424.93)" fill="#333">0</text></g>
<g><polygon points="458.45,425.32 458.45,417.69 459.31,420.77 460.54,423.23 464.85,424.46 490.69,424.09 492.54,422.62 493.77,420.15 495,417.69 496.23,415.23 497.46,412.15 498.32,409.69 499.31,407.85 500.29,406 501.15,407.85 502.02,406 503,405.38 503.98,404.15 504.85,406 505.46,408.46 506.45,410.92 507.31,412.15 508.17,414 509.15,415.85 510.14,417.08 511,416.46 511.86,417.69 512.85,418.31 513.83,416.46 514.69,415.85 514.8,415.85 514.8,425.32 514.8,426.2 458.45,426.2" fill="#000"/><polyline points="461.77,422.62 463,418.92 464.23,411.54 465.46,401.69 466.45,391.85 467.31,385.69 467.92,383.85 468.78,384.46 469.52,389.38 470.38,396.77 471.25,405.38 472.23,412.77 473.46,418.92 474.94,422 477.15,423.23 480.85,423.85" fill="none" stroke="#000" stroke-width="1.1" stroke-linejoin="round"/><rect x="458.1" y="424.8" width="56.7" height="1.4" fill="#000"/><rect x="458.1" y="383.35" width="56.7" height="42.85" fill="none" stroke="#000" stroke-width="1.2"/><line x1="458.1" y1="382.85" x2="458.1" y2="426.7" stroke="#000" stroke-width="1.7"/><path d="M456.3 390.49H458.1M456.3 397.63H458.1M456.3 404.78H458.1M456.3 411.92H458.1M456.3 419.06H458.1" stroke="#000" stroke-width="0.6"/><path d="M458.1 426.2v2.2M462.37 426.2v1.1M464.86 426.2v1.1M466.63 426.2v1.1M468.01 426.2v1.1M469.13 426.2v1.1M470.08 426.2v1.1M470.9 426.2v1.1M471.63 426.2v1.1M472.28 426.2v2.2M476.54 426.2v1.1M479.04 426.2v1.1M480.81 426.2v1.1M482.18 426.2v1.1M483.31 426.2v1.1M484.25 426.2v1.1M485.08 426.2v1.1M485.8 426.2v1.1M486.45 426.2v2.2M490.72 426.2v1.1M493.21 426.2v1.1M494.98 426.2v1.1M496.36 426.2v1.1M497.48 426.2v1.1M498.43 426.2v1.1M499.25 426.2v1.1M499.98 426.2v1.1M500.62 426.2v2.2M504.89 426.2v1.1M507.39 426.2v1.1M509.16 426.2v1.1M510.53 426.2v1.1M511.66 426.2v1.1M512.6 426.2v1.1M513.43 426.2v1.1M514.15 426.2v1.1M514.8 426.2v2.2" stroke="#000" stroke-width="0.5"/><text x="455.2" y="434.6" font-size="4.8" font-weight="bold" letter-spacing="0.7" fill="#000">10<tspan dx="-0.5" dy="-3" font-size="4.4">0</tspan></text><text x="469.38" y="434.6" font-size="4.8" font-weight="bold" letter-spacing="0.7" fill="#000">10<tspan dx="-0.5" dy="-3" font-size="4.4">1</tspan></text><text x="483.55" y="434.6" font-size="4.8" font-weight="bold" letter-spacing="0.7" fill="#000">10<tspan dx="-0.5" dy="-3" font-size="4.4">2</tspan></text><text x="497.73" y="434.6" font-size="4.8" font-weight="bold" letter-spacing="0.7" fill="#000">10<tspan dx="-0.5" dy="-3" font-size="4.4">3</tspan></text><text x="511.9" y="434.6" font-size="4.8" font-weight="bold" letter-spacing="0.7" fill="#000">10<tspan dx="-0.5" dy="-3" font-size="4.4">4</tspan></text><text x="485.45" y="439.8" font-size="4.6" font-weight="bold" text-anchor="middle" textLength="11.6" lengthAdjust="spacingAndGlyphs" fill="#000" stroke="#000" stroke-width="0.2">FL2-H</text><text x="447.6" y="404.78" font-size="4.6" font-weight="bold" text-anchor="middle" dominant-baseline="central" transform="rotate(-90 447.6 404.78)" fill="#111">Counts</text><text x="450.9" y="385.95" font-size="7.4" font-weight="bold" textLength="3.8" lengthAdjust="spacingAndGlyphs" fill="#111">S</text><text x="452.9" y="424.8" font-size="5.4" font-weight="bold" text-anchor="middle" dominant-baseline="central" transform="rotate(-90 452.9 424.8)" fill="#333">0</text></g>
</svg>
</body></html>
